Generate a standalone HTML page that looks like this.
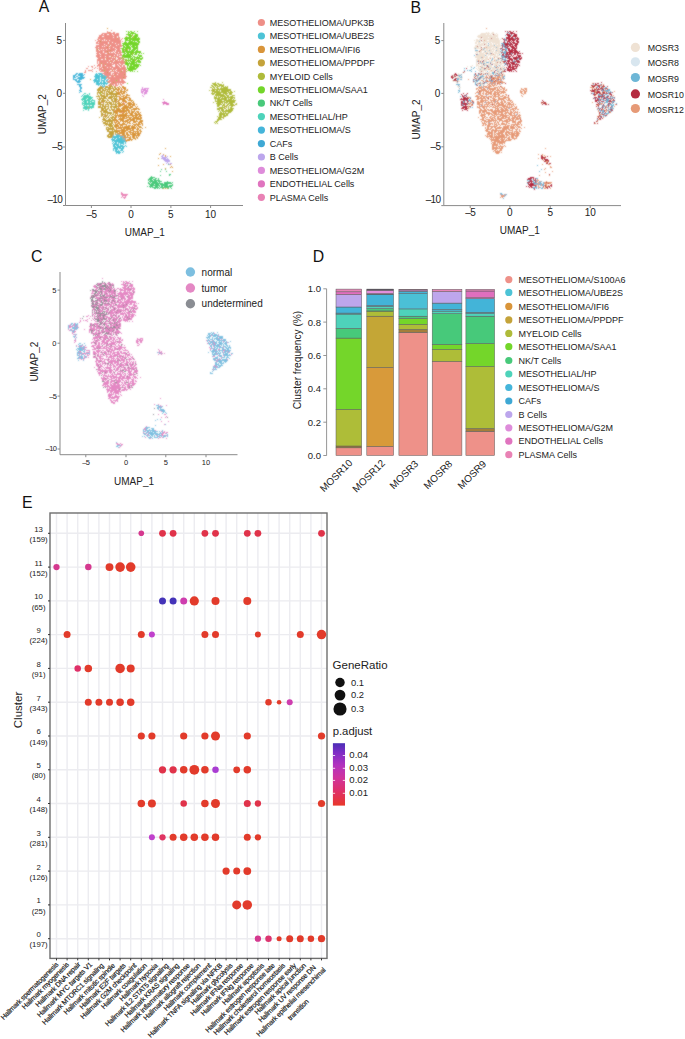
<!DOCTYPE html><html><head><meta charset="utf-8"><style>html,body{margin:0;padding:0;background:#fff;}body{width:685px;height:1039px;overflow:hidden;}svg{display:block;}text{font-family:"Liberation Sans",sans-serif;}</style></head><body>
<svg width="685" height="1039" viewBox="0 0 685 1039">
<rect width="685" height="1039" fill="#fff"/>
<defs><filter id="soft" x="-5%" y="-5%" width="110%" height="110%"><feConvolveMatrix order="3" kernelMatrix="0.5 1 0.5 1 5 1 0.5 1 0.5" divisor="11" edgeMode="none"/></filter></defs>
<text x="38.8" y="12.4" font-size="15.8" fill="#111">A</text>
<text x="410.6" y="12.5" font-size="15.8" fill="#111">B</text>
<text x="31.0" y="262.2" font-size="15.8" fill="#111">C</text>
<text x="312.8" y="262.4" font-size="15.8" fill="#111">D</text>
<text x="22.1" y="507.6" font-size="15.8" fill="#111">E</text>
<path d="M65.5 23V205.5H243" stroke="#8a8a8a" stroke-width="1" fill="none"/><path d="M63.0 40.4H65.5" stroke="#8a8a8a" stroke-width="1"/><text x="62.0" y="43.7" font-size="10" fill="#222" text-anchor="end">5</text><path d="M63.0 93.3H65.5" stroke="#8a8a8a" stroke-width="1"/><text x="62.0" y="96.6" font-size="10" fill="#222" text-anchor="end">0</text><path d="M63.0 147H65.5" stroke="#8a8a8a" stroke-width="1"/><text x="62.0" y="150.3" font-size="10" fill="#222" text-anchor="end" letter-spacing="-0.70">–5</text><path d="M63.0 205.5H65.5" stroke="#8a8a8a" stroke-width="1"/><text x="62.0" y="203.3" font-size="10" fill="#222" text-anchor="end" letter-spacing="-0.70">–10</text><path d="M91.4 205.5V208.0" stroke="#8a8a8a" stroke-width="1"/><text x="91.4" y="217.5" font-size="10" fill="#222" text-anchor="middle" letter-spacing="-0.70">–5</text><path d="M131 205.5V208.0" stroke="#8a8a8a" stroke-width="1"/><text x="131" y="217.5" font-size="10" fill="#222" text-anchor="middle">0</text><path d="M170.9 205.5V208.0" stroke="#8a8a8a" stroke-width="1"/><text x="170.9" y="217.5" font-size="10" fill="#222" text-anchor="middle">5</text><path d="M210.6 205.5V208.0" stroke="#8a8a8a" stroke-width="1"/><text x="210.6" y="217.5" font-size="10" fill="#222" text-anchor="middle">10</text><text x="0" y="0" transform="translate(45.6,114.2) rotate(-90)" font-size="10" fill="#222" text-anchor="middle">UMAP_2</text><text x="144.8" y="235.8" font-size="10" fill="#222" text-anchor="middle">UMAP_1</text>
<g shape-rendering="crispEdges" filter="url(#soft)"><path stroke="#D9953A" stroke-width="1" fill="none" d="M107 28.5h1m1 4h1m7 6h1m-11 9h1m2 3h1m-3 3h1m2 3h1m3 1h1m-10 1h1m8 2h1m-6 1h1m-8 6h1m8 3h1m-6 2h1m6 3h1m-25 4h1m28 7h1m2 0h2m-7 1h2m1 0h1m1 0h4m-8 1h2m1 0h1m1 0h3m-13 1h1m2 0h4m1 0h1m2 0h2m1 0h1m-11 1h2m1 0h1m3 0h1m1 0h2m-12 1h1m1 0h1m1 0h6m-9 1h5m1 0h2m1 0h1m-9 1h2m1 0h4m-9 1h1m1 0h3m1 0h1m3 0h2m-8 1h1m2 0h2m1 0h4m-12 1h2m1 0h3m1 0h2m-8 1h2m2 0h7m-11 1h8m2 0h2m-12 1h6m2 0h1m1 0h2m-13 1h2m2 0h4m2 0h4m-10 1h5m4 0h1m1 0h1m-16 1h2m1 0h1m3 0h2m1 0h3m1 0h2m-15 1h1m2 0h2m3 0h5m1 0h2m-17 1h7m1 0h1m1 0h7m1 0h1m-18 1h4m1 0h3m1 0h3m1 0h3m-18 1h4m2 0h6m1 0h3m2 0h1m1 0h1m-20 1h1m3 0h11m3 0h1m-19 1h1m2 0h7m1 0h1m3 0h6m-23 1h5m1 0h3m1 0h3m2 0h6m1 0h2m-38 1h1m12 0h15m1 0h1m2 0h1m-20 1h12m1 0h2m1 0h4m1 0h3m-25 1h4m1 0h3m1 0h2m1 0h1m1 0h2m1 0h3m1 0h1m1 0h2m1 0h1m-26 1h3m4 0h2m1 0h3m1 0h4m1 0h3m1 0h2m-23 1h1m1 0h8m3 0h3m2 0h6m-27 1h1m1 0h22m1 0h3m-27 1h2m1 0h9m1 0h1m3 0h2m1 0h2m1 0h3m-27 1h3m1 0h1m1 0h1m1 0h3m1 0h6m1 0h6m1 0h2m-27 1h1m3 0h8m2 0h2m1 0h10m-28 1h3m1 0h6m3 0h8m1 0h4m-27 1h5m2 0h4m1 0h4m1 0h5m1 0h1m3 0h3m-29 1h1m1 0h3m1 0h1m1 0h6m1 0h2m2 0h5m1 0h4m-29 1h3m1 0h2m3 0h1m1 0h1m1 0h3m3 0h3m2 0h4m-27 1h1m1 0h3m2 0h3m2 0h1m1 0h2m1 0h1m3 0h1m1 0h2m1 0h2m-28 1h3m1 0h8m6 0h8m1 0h1m-28 1h4m1 0h3m3 0h1m1 0h3m1 0h1m1 0h2m1 0h2m3 0h1m-29 1h1m1 0h3m1 0h1m1 0h1m1 0h6m1 0h4m1 0h1m1 0h3m-26 1h2m1 0h12m1 0h5m1 0h1m1 0h1m1 0h1m3 0h1m-30 1h6m1 0h13m1 0h2m3 0h1m-29 1h1m1 0h1m4 0h4m1 0h5m1 0h2m2 0h3m1 0h1m-24 1h11m2 0h4m3 0h1m1 0h2m-25 1h4m1 0h5m2 0h3m2 0h6m1 0h2m-23 1h6m1 0h2m1 0h5m1 0h1m1 0h2m1 0h1m-24 1h8m1 0h2m2 0h1m1 0h9m-22 1h1m2 0h3m1 0h3m1 0h6m1 0h3m-20 1h6m1 0h3m2 0h8m-16 1h2m1 0h1m2 0h1m1 0h3m1 0h1m1 0h1m-17 1h9m1 0h3m1 0h2m-13 1h1m3 0h2m2 0h1m1 0h1m1 0h1m-15 1h1m1 0h1m1 0h6m2 0h1m-11 1h5m1 0h1m-6 1h1m38 7h1m-6 5h1m-2 1h1m3 0h1m1 1h1m-1 1h1m4 0h1m-13 2h1m4 6h1m6 0h1m-13 1h1m12 1h1m-2 1h1m1 0h1m-8 1h1m6 3h1"/>
<path stroke="#E074BF" stroke-width="1" fill="none" d="M163 99.5h1m0 2h1m-3 1h5m-4 1h6m-6 1h1m2 0h3"/>
<path stroke="#EE8F87" stroke-width="1" fill="none" d="M111 30.5h1m-5 1h1m-1 1h2m1 0h1m2 0h2m-13 1h13m1 0h3m-18 1h2m1 0h3m2 0h3m1 0h6m-20 1h14m1 0h5m-20 1h3m2 0h13m1 0h1m-21 1h15m1 0h3m1 0h2m-22 1h19m1 0h2m2 0h1m-26 1h2m1 0h4m1 0h15m1 0h1m-27 1h1m2 0h4m1 0h1m1 0h1m1 0h2m1 0h11m-24 1h3m1 0h20m1 0h1m-27 1h2m1 0h9m1 0h3m1 0h8m-25 1h12m1 0h6m1 0h5m-22 1h5m1 0h13m1 0h2m-25 1h10m1 0h2m2 0h5m1 0h5m-26 1h6m1 0h1m1 0h4m1 0h12m-27 1h3m1 0h8m1 0h5m1 0h6m-24 1h13m1 0h5m1 0h5m-25 1h1m2 0h2m1 0h1m1 0h2m1 0h9m1 0h3m-24 1h3m1 0h10m1 0h4m1 0h5m3 0h1m-29 1h7m1 0h3m1 0h5m1 0h1m1 0h5m-24 1h6m1 0h5m1 0h1m2 0h1m1 0h3m1 0h3m-26 1h3m1 0h5m2 0h1m1 0h6m1 0h5m-24 1h3m1 0h16m1 0h1m1 0h2m-26 1h18m1 0h2m1 0h4m-26 1h4m1 0h4m1 0h3m3 0h7m-22 1h15m1 0h1m3 0h5m1 0h1m-26 1h7m2 0h9m2 0h3m1 0h1m-26 1h4m2 0h2m1 0h5m1 0h4m1 0h4m1 0h1m1 0h1m-28 1h12m1 0h4m2 0h2m1 0h1m1 0h3m-27 1h1m1 0h11m1 0h2m1 0h10m1 0h1m-29 1h1m1 0h8m1 0h2m1 0h14m-28 1h1m1 0h2m1 0h10m1 0h6m1 0h5m-27 1h3m1 0h3m1 0h8m1 0h2m1 0h2m1 0h2m-29 1h1m2 0h4m1 0h3m1 0h6m3 0h3m1 0h3m1 0h2m-37 1h1m2 0h2m4 0h1m1 0h2m1 0h11m2 0h4m1 0h2m1 0h2m-33 1h1m2 0h1m3 0h1m1 0h2m1 0h3m1 0h2m1 0h9m1 0h5m-40 1h2m6 0h1m2 0h1m1 0h3m1 0h9m1 0h13m-34 1h1m6 0h17m1 0h9m-41 1h1m2 0h4m7 0h1m1 0h3m1 0h5m4 0h1m1 0h6m1 0h3m1 0h1m-43 1h1m6 0h1m3 0h1m3 0h9m1 0h6m1 0h4m1 0h4m-42 1h2m18 0h3m1 0h3m3 0h4m1 0h7m-24 1h9m1 0h14m-22 1h7m1 0h1m1 0h3m1 0h6m1 0h1m-21 1h9m1 0h11m-19 1h2m2 0h3m1 0h12m-20 1h16m1 0h2m-20 1h1m1 0h18m-18 1h1m1 0h10m1 0h2m-14 1h7m1 0h3m1 0h3m-17 1h18m-16 1h1m1 0h2m1 0h12m-16 1h7m1 0h1m1 0h1m1 0h2m-15 1h1m1 0h3m1 0h2m1 0h1m1 0h2m-14 1h1m1 0h1m2 0h1m1 0h3m3 0h1m-7 1h1m6 3h1m-7 12h1m-15 1h1m20 0h1m0 1h1m-11 7h1m7 2h1m-19 3h1"/>
<path stroke="#AFBB3A" stroke-width="1" fill="none" d="M215 82.5h1m6 0h1m-11 1h4m1 0h2m-6 1h4m1 0h4m1 0h1m-13 1h2m1 0h4m1 0h5m-12 1h2m1 0h1m1 0h3m1 0h3m1 0h1m1 0h1m-18 1h2m1 0h2m1 0h2m3 0h1m1 0h5m-16 1h1m1 0h1m2 0h2m1 0h8m-15 1h18m-22 1h1m1 0h4m1 0h2m1 0h1m1 0h10m-19 1h1m1 0h6m1 0h8m1 0h2m2 0h1m-23 1h1m1 0h13m1 0h5m-22 1h4m1 0h5m2 0h5m1 0h3m-20 1h2m1 0h9m1 0h2m2 0h3m-17 1h10m1 0h3m3 0h3m-21 1h1m1 0h1m1 0h1m1 0h6m1 0h2m1 0h3m-19 1h3m1 0h3m1 0h1m1 0h11m-21 1h6m1 0h6m1 0h1m1 0h3m1 0h1m-20 1h1m1 0h10m1 0h4m1 0h1m-19 1h1m1 0h5m2 0h12m-21 1h10m1 0h9m-22 1h1m3 0h4m1 0h1m1 0h4m1 0h6m-19 1h5m1 0h1m1 0h1m1 0h1m1 0h5m3 0h1m-20 1h5m1 0h2m2 0h2m1 0h4m1 0h2m-20 1h3m2 0h3m2 0h1m1 0h5m-17 1h2m3 0h1m2 0h2m1 0h1m2 0h2m-14 1h6m1 0h1m1 0h1m1 0h2m-15 1h3m1 0h2m1 0h1m3 0h1m1 0h4m-17 1h3m1 0h3m2 0h1m1 0h5m-14 1h1m1 0h3m1 0h8m-15 1h1m1 0h1m1 0h10m-12 1h2m1 0h1m1 0h1m2 0h3m-12 1h10m-10 1h6m1 0h2m-9 1h3m1 0h5m-11 1h1m1 0h3m1 0h3m-8 1h5m-5 1h3m2 0h1m-7 1h5m-5 1h2m-4 1h3m-4 1h1m1 0h1m-2 1h1m1 0h1"/>
<path stroke="#73D62A" stroke-width="1" fill="none" d="M126 31.5h1m1 0h1m1 0h2m2 0h1m2 0h1m-10 1h2m1 0h3m-6 1h1m1 0h6m-10 1h5m1 0h1m2 0h3m-10 1h4m2 0h4m-9 1h3m1 0h5m-13 1h6m1 0h1m1 0h3m1 0h1m-15 1h16m-15 1h3m1 0h11m-15 1h6m1 0h7m-14 1h1m3 0h4m1 0h1m2 0h3m-16 1h3m1 0h9m1 0h2m-18 1h17m-16 1h16m-17 1h2m1 0h4m1 0h1m1 0h6m-15 1h2m1 0h4m1 0h4m1 0h2m-15 1h8m1 0h6m-17 1h3m1 0h6m2 0h5m-16 1h5m2 0h2m1 0h4m1 0h1m-16 1h2m1 0h3m1 0h1m1 0h4m1 0h2m-16 1h12m1 0h6m-19 1h3m1 0h15m-17 1h2m1 0h2m1 0h2m1 0h1m1 0h2m2 0h1m1 0h1m1 0h1m-21 1h2m1 0h7m1 0h3m1 0h1m-17 1h9m1 0h1m5 0h4m-20 1h10m1 0h2m2 0h1m1 0h3m-20 1h1m1 0h7m1 0h1m1 0h6m2 0h1m-22 1h1m1 0h1m4 0h1m1 0h3m1 0h1m1 0h7m-20 1h1m1 0h2m1 0h1m1 0h7m1 0h1m1 0h2m-17 1h1m1 0h4m1 0h3m2 0h3m-16 1h1m1 0h1m1 0h1m1 0h5m1 0h5m-16 1h3m1 0h1m1 0h6m1 0h3m-16 1h10m1 0h1m-12 1h4m1 0h10m-13 1h2m1 0h2m1 0h6m1 0h1m-14 1h1m1 0h10m-12 1h1m1 0h6m1 0h2m-11 1h10m-11 1h1m1 0h8m-32 1h1m23 0h5m-7 1h1m3 0h1m1 0h1m1 0h1m2 0h1m-22 9h1m10 3h1m-28 10h1"/>
<path stroke="#4ED3BA" stroke-width="1" fill="none" d="M84 93.5h2m3 0h1m-7 1h1m3 0h1m1 0h1m-6 1h5m-8 1h1m1 0h8m-8 1h10m-11 1h5m1 0h4m-11 1h5m1 0h4m1 0h1m-11 1h1m1 0h6m1 0h4m-12 1h4m1 0h4m2 0h1m-13 1h1m1 0h3m1 0h2m1 0h4m-13 1h13m-13 1h1m1 0h11m-12 1h2m1 0h1m2 0h1m2 0h2m-10 1h10m-11 1h5m1 0h5m-11 1h7m1 0h1m-7 1h2m1 0h1m-6 1h1m4 0h1"/>
<path stroke="#48C97A" stroke-width="1" fill="none" d="M168 164.5h1m-8 5h1m3 0h1m-6 2h1m5 0h1m2 3h2m-11 1h1m8 0h1m-19 1h1m-2 1h5m-6 1h4m2 0h2m1 0h1m-11 1h4m1 0h3m2 0h1m-11 1h1m1 0h3m1 0h6m-11 1h8m1 0h4m5 0h1m-20 1h1m1 0h1m1 0h6m1 0h1m4 0h7m1 0h1m-25 1h2m1 0h12m1 0h8m-23 1h5m1 0h4m1 0h8m4 0h1m-23 1h10m1 0h7m1 0h4m-26 1h1m1 0h4m2 0h3m1 0h1m1 0h2m1 0h8m-22 1h1m1 0h7m1 0h9m1 0h1m-17 1h2m1 0h1m1 0h1m2 0h1m5 0h1m2 0h1"/>
<path stroke="#C4A33A" stroke-width="1" fill="none" d="M132 35.5h1m-7 1h1m6 1h1m-34 4h1m8 4h1m-13 4h1m29 0h1m-21 2h1m24 2h1m-7 7h1m8 0h1m-35 3h1m3 1h1m15 7h1m2 3h1m-22 2h1m2 1h1m16 0h1m-16 5h1m4 0h1m-4 2h1m-2 1h1m1 0h1m-12 1h2m3 0h3m1 0h4m1 0h1m-16 1h5m1 0h6m1 0h1m1 0h2m-18 1h5m1 0h2m2 0h6m1 0h2m-20 1h4m1 0h2m1 0h6m3 0h2m96 0h1m-116 1h4m1 0h4m1 0h1m1 0h1m1 0h1m1 0h2m6 0h1m-24 1h1m1 0h3m1 0h1m1 0h4m1 0h3m1 0h1m97 0h1m-117 1h6m1 0h1m1 0h1m1 0h5m3 0h1m-20 1h1m1 0h1m2 0h3m1 0h2m1 0h9m-21 1h1m2 0h2m2 0h1m1 0h10m1 0h1m-20 1h1m1 0h5m1 0h2m3 0h1m1 0h1m1 0h2m-21 1h4m1 0h7m1 0h9m-19 1h1m1 0h1m1 0h3m2 0h5m1 0h1m1 0h1m-20 1h1m1 0h8m1 0h4m1 0h4m-19 1h3m1 0h2m3 0h1m3 0h2m1 0h4m-19 1h1m1 0h5m1 0h2m2 0h2m1 0h3m15 0h1m-35 1h2m1 0h4m1 0h1m2 0h1m2 0h4m1 0h2m-21 1h4m1 0h1m1 0h7m1 0h1m1 0h2m104 0h1m-124 1h3m2 0h1m3 0h1m1 0h3m1 0h1m1 0h1m1 0h2m1 0h1m-23 1h6m1 0h4m1 0h7m-17 1h1m1 0h2m1 0h1m2 0h1m2 0h1m3 0h2m1 0h1m107 0h1m7 0h1m-137 1h3m1 0h7m1 0h7m107 0h1m-137 1h1m9 0h5m1 0h2m2 0h1m1 0h2m1 0h4m-16 1h5m1 0h2m2 0h1m2 0h1m1 0h2m1 0h1m10 0h1m89 0h1m4 0h1m-125 1h3m1 0h3m1 0h1m1 0h4m-14 1h1m1 0h4m2 0h2m1 0h2m-14 1h2m1 0h5m5 0h2m-14 1h1m1 0h9m1 0h1m-13 1h2m2 0h1m1 0h5m1 0h1m-13 1h5m1 0h1m2 0h1m1 0h2m1 0h1m-15 1h2m2 0h3m1 0h1m1 0h1m3 0h1m-15 1h1m1 0h4m1 0h1m3 0h2m-15 1h1m3 0h1m1 0h1m1 0h2m1 0h4m109 0h1m-121 1h2m1 0h1m2 0h1m1 0h2m1 0h1m-13 1h4m2 0h3m1 0h2m26 0h1m-38 1h10m-11 1h1m2 0h8m-10 1h3m1 0h1m1 0h1m1 0h2m-10 1h5m1 0h4m-8 1h7m1 0h1m-10 1h1m1 0h1m1 0h5m1 0h1m-6 1h4m2 0h1m-10 1h3m1 0h1m1 0h2m26 0h1m-35 1h1m1 0h6m-8 1h8m-7 1h2m3 0h1m1 0h3m-10 1h9m-7 1h5m1 0h3m-9 1h5m1 0h1m-8 1h6m1 0h1m1 0h1m-11 1h2m1 0h3m-6 1h6m-5 1h4m22 1h1m28 50h1m1 0h1m1 0h1"/>
<path stroke="#45B5DA" stroke-width="1" fill="none" d="M76 73.5h2m1 0h4m-8 1h2m1 0h5m1 0h1m-12 1h3m2 0h6m-11 1h2m1 0h2m2 0h3m-10 1h3m2 0h7m-12 1h1m3 0h7m-11 1h4m2 0h3m-7 1h2m1 0h2m-4 1h5m-4 1h3m-3 2h5m-3 1h2m-2 1h2m-1 1h2m-2 1h2m-2 1h1m-2 1h2m-1 1h2m-3 1h1m2 3h1"/>
<path stroke="#BCA6EC" stroke-width="1" fill="none" d="M162 155.5h2m-3 1h2m4 0h1m-6 1h5m-6 1h5m1 0h1m-5 1h6m-5 1h6m-5 1h5m-3 1h1m-2 1h1m1 0h1m1 0h2m-3 1h1"/>
<path stroke="#4DC3D6" stroke-width="1" fill="none" d="M96 73.5h1m1 0h4m-7 1h3m1 0h4m-8 1h5m1 0h4m-11 1h9m1 0h3m-12 1h5m1 0h5m-11 1h5m1 0h5m-12 1h3m1 0h2m1 0h1m2 0h2m1 0h1m-15 1h7m1 0h4m1 0h2m-14 1h6m1 0h1m1 0h2m1 0h1m-13 1h1m1 0h3m1 0h2m1 0h3m1 0h1m-12 1h12m-12 1h4m1 0h1m1 0h2m1 0h1m-9 1h1m1 0h1m1 0h1m1 0h1m-3 1h3m11 48h1m1 0h1m-6 1h1m2 0h4m-7 1h11m-12 1h7m1 0h2m-10 1h1m1 0h2m1 0h8m-14 1h4m1 0h7m1 0h1m-13 1h13m-13 1h1m1 0h12m-13 1h1m1 0h2m1 0h6m1 0h1m-14 1h1m1 0h3m1 0h1m1 0h4m1 0h1m-13 1h6m1 0h1m2 0h1m-11 1h2m1 0h3m1 0h3m2 0h1m-13 1h3m1 0h8m1 0h1m-13 1h7m1 0h2m-11 1h5m1 0h5m-11 1h1m1 0h3m3 0h2m-10 1h1m1 0h2m1 0h1m1 0h3m-8 1h5m3 0h1m-8 1h5m1 0h1m-7 1h1m1 0h2"/>
<path stroke="#E982B5" stroke-width="1" fill="none" d="M121 192.5h1m-1 1h2m-2 1h7m-6 1h5m-5 1h1m2 0h1m-5 1h1m1 0h3m-2 1h1"/>
<path stroke="#DE8CDA" stroke-width="1" fill="none" d="M142 87.5h1m-1 1h1m1 0h5m-8 1h5m1 0h1m-7 1h1m1 0h5m-7 1h3m1 0h3m-7 1h2m1 0h3m-5 1h1m1 0h3m-3 1h1m-3 1h1m0 1h1"/>
</g>
<circle cx="261.4" cy="22.5" r="3.6" fill="#EE8F87"/>
<text x="269.7" y="25.7" font-size="9" fill="#222">MESOTHELIOMA/UPK3B</text>
<circle cx="261.4" cy="36.0" r="3.6" fill="#4DC3D6"/>
<text x="269.7" y="39.2" font-size="9" fill="#222">MESOTHELIOMA/UBE2S</text>
<circle cx="261.4" cy="49.4" r="3.6" fill="#D9953A"/>
<text x="269.7" y="52.6" font-size="9" fill="#222">MESOTHELIOMA/IFI6</text>
<circle cx="261.4" cy="62.8" r="3.6" fill="#C4A33A"/>
<text x="269.7" y="66.0" font-size="9" fill="#222">MESOTHELIOMA/PPDPF</text>
<circle cx="261.4" cy="76.3" r="3.6" fill="#AFBB3A"/>
<text x="269.7" y="79.5" font-size="9" fill="#222">MYELOID Cells</text>
<circle cx="261.4" cy="89.8" r="3.6" fill="#73D62A"/>
<text x="269.7" y="93.0" font-size="9" fill="#222">MESOTHELIOMA/SAA1</text>
<circle cx="261.4" cy="103.2" r="3.6" fill="#48C97A"/>
<text x="269.7" y="106.4" font-size="9" fill="#222">NK/T Cells</text>
<circle cx="261.4" cy="116.6" r="3.6" fill="#4ED3BA"/>
<text x="269.7" y="119.8" font-size="9" fill="#222">MESOTHELIAL/HP</text>
<circle cx="261.4" cy="130.1" r="3.6" fill="#45B5DA"/>
<text x="269.7" y="133.3" font-size="9" fill="#222">MESOTHELIOMA/S</text>
<circle cx="261.4" cy="143.6" r="3.6" fill="#3EA8D4"/>
<text x="269.7" y="146.8" font-size="9" fill="#222">CAFs</text>
<circle cx="261.4" cy="157.0" r="3.6" fill="#BCA6EC"/>
<text x="269.7" y="160.2" font-size="9" fill="#222">B Cells</text>
<circle cx="261.4" cy="170.4" r="3.6" fill="#DE8CDA"/>
<text x="269.7" y="173.6" font-size="9" fill="#222">MESOTHELIOMA/G2M</text>
<circle cx="261.4" cy="183.9" r="3.6" fill="#E074BF"/>
<text x="269.7" y="187.1" font-size="9" fill="#222">ENDOTHELIAL Cells</text>
<circle cx="261.4" cy="197.3" r="3.6" fill="#E982B5"/>
<text x="269.7" y="200.5" font-size="9" fill="#222">PLASMA Cells</text>
<path d="M443.8 23V205.6H621" stroke="#8a8a8a" stroke-width="1" fill="none"/><path d="M441.3 40.6H443.8" stroke="#8a8a8a" stroke-width="1"/><text x="440.3" y="43.9" font-size="10" fill="#222" text-anchor="end">5</text><path d="M441.3 93.4H443.8" stroke="#8a8a8a" stroke-width="1"/><text x="440.3" y="96.7" font-size="10" fill="#222" text-anchor="end">0</text><path d="M441.3 146.8H443.8" stroke="#8a8a8a" stroke-width="1"/><text x="440.3" y="150.1" font-size="10" fill="#222" text-anchor="end" letter-spacing="-0.70">–5</text><path d="M441.3 205.6H443.8" stroke="#8a8a8a" stroke-width="1"/><text x="440.3" y="203.2" font-size="10" fill="#222" text-anchor="end" letter-spacing="-0.70">–10</text><path d="M470.2 205.6V208.1" stroke="#8a8a8a" stroke-width="1"/><text x="470.2" y="216.4" font-size="10" fill="#222" text-anchor="middle" letter-spacing="-0.70">–5</text><path d="M509.9 205.6V208.1" stroke="#8a8a8a" stroke-width="1"/><text x="509.9" y="216.4" font-size="10" fill="#222" text-anchor="middle">0</text><path d="M550.2 205.6V208.1" stroke="#8a8a8a" stroke-width="1"/><text x="550.2" y="216.4" font-size="10" fill="#222" text-anchor="middle">5</text><path d="M590.2 205.6V208.1" stroke="#8a8a8a" stroke-width="1"/><text x="590.2" y="216.4" font-size="10" fill="#222" text-anchor="middle">10</text><text x="0" y="0" transform="translate(420.2,119.5) rotate(-90)" font-size="10" fill="#222" text-anchor="middle">UMAP_2</text><text x="519.8" y="233.6" font-size="10" fill="#222" text-anchor="middle">UMAP_1</text>
<g shape-rendering="crispEdges" filter="url(#soft)"><path stroke="#EFE2D4" stroke-width="1" fill="none" d="M486 32.5h1m1 0h1m3 0h2m-13 1h9m1 0h3m2 0h1m-17 1h6m1 0h2m1 0h1m1 0h1m1 0h2m1 0h1m-20 1h14m1 0h5m-21 1h21m-20 1h3m1 0h6m1 0h7m1 0h1m-18 1h2m1 0h8m1 0h7m2 0h1m-26 1h2m1 0h2m1 0h17m1 0h1m-27 1h1m1 0h5m2 0h1m1 0h2m2 0h11m-24 1h3m2 0h19m1 0h1m-27 1h2m1 0h3m2 0h2m1 0h2m1 0h2m1 0h8m-25 1h2m1 0h2m1 0h6m3 0h2m1 0h1m1 0h5m-23 1h6m2 0h2m1 0h4m1 0h4m1 0h2m-25 1h3m1 0h6m1 0h2m2 0h4m2 0h5m-26 1h2m1 0h3m4 0h16m-27 1h5m1 0h1m2 0h1m1 0h1m1 0h5m1 0h3m1 0h2m-25 1h1m1 0h8m1 0h6m1 0h2m1 0h5m-25 1h1m6 0h1m1 0h1m1 0h2m1 0h6m1 0h3m-20 1h1m1 0h8m1 0h2m1 0h1m1 0h1m1 0h3m3 0h1m-29 1h4m1 0h2m2 0h1m2 0h7m1 0h5m1 0h1m-26 1h2m1 0h3m1 0h5m1 0h2m1 0h1m1 0h3m1 0h3m-26 1h1m1 0h1m1 0h5m1 0h1m2 0h2m2 0h2m1 0h5m-22 1h7m1 0h1m1 0h5m1 0h2m1 0h1m2 0h1m-25 1h9m1 0h1m1 0h1m1 0h3m1 0h2m1 0h3m-25 1h10m1 0h2m2 0h1m2 0h5m-23 1h6m2 0h5m1 0h2m1 0h1m3 0h4m1 0h1m-25 1h7m1 0h3m1 0h1m3 0h2m2 0h1m1 0h1m-24 1h4m1 0h2m1 0h4m3 0h1m2 0h4m1 0h1m1 0h1m-26 1h2m1 0h3m2 0h3m2 0h1m2 0h1m2 0h1m1 0h2m1 0h1m1 0h1m-27 1h1m2 0h1m4 0h3m1 0h14m-26 1h1m1 0h2m1 0h1m1 0h2m6 0h2m2 0h2m1 0h2m-24 1h1m2 0h2m1 0h1m2 0h2m1 0h1m3 0h6m1 0h5m-28 1h2m1 0h1m1 0h1m2 0h3m1 0h3m3 0h5m1 0h2m-30 1h1m3 0h3m2 0h3m1 0h1m2 0h4m2 0h2m2 0h1m1 0h1m1 0h1m-36 1h1m2 0h2m4 0h1m1 0h2m1 0h2m1 0h1m1 0h1m2 0h3m3 0h2m2 0h2m1 0h2m-26 1h1m4 0h2m2 0h1m1 0h6m2 0h1m2 0h3m-27 1h1m1 0h6m2 0h4m2 0h7m2 0h2m1 0h1m-28 1h1m1 0h1m1 0h3m1 0h3m2 0h1m1 0h3m1 0h1m1 0h2m2 0h2m-26 1h9m3 0h1m1 0h2m3 0h4m1 0h2m-25 1h2m1 0h2m1 0h1m3 0h4m6 0h1m-38 1h1m1 0h1m15 0h1m2 0h1m2 0h1m1 0h2m5 0h2m1 0h2m2 0h2m-46 1h1m21 0h1m1 0h3m1 0h1m1 0h4m2 0h2m2 0h1m1 0h1m2 0h1m-46 1h3m15 0h1m7 0h1m3 0h3m6 0h1m2 0h2m1 0h2m-52 1h1m7 0h1m13 0h1m4 0h2m1 0h1m-31 1h1m4 0h1m14 0h2m3 0h1m5 0h2m15 0h1m-48 1h1m2 0h3m2 0h1m15 0h1m3 0h2m12 0h1m4 0h1m-43 1h1m1 0h1m12 0h1m2 0h1m3 0h2m2 0h1m1 0h1m13 0h1m-43 1h1m15 0h1m1 0h1m2 0h1m9 0h1m-39 1h1m5 0h1m20 0h1m3 0h1m10 0h1m-42 1h1m1 0h2m1 0h2m15 0h1m4 0h1m1 0h1m-27 1h1m16 0h1m2 0h1m2 0h1m2 0h2m4 0h1m-32 1h1m23 0h1m4 0h1m-10 1h2m2 0h4m-26 1h1m21 0h1m6 0h1m6 0h1m-39 1h2m21 0h1m1 0h1m-25 1h1m1 0h1m-2 2h1m8 7h1m-1 8h1m1 0h1m-3 1h1m0 3h1"/>
<path stroke="#E69A77" stroke-width="1" fill="none" d="M486 28.5h1m-3 12h1m-1 7h1m1 0h1m-7 3h1m5 3h1m6 1h1m-12 3h1m11 0h1m-5 1h1m-3 1h1m-11 1h1m15 0h1m7 1h1m-21 1h1m20 0h1m-8 3h1m-17 1h1m1 1h1m3 0h1m11 0h1m5 0h1m-17 2h2m11 0h1m-11 1h1m5 1h1m4 0h1m-24 3h1m1 0h1m16 0h2m-14 1h1m1 0h1m2 0h2m1 0h2m3 0h1m1 0h2m1 0h1m-28 1h1m8 0h1m2 0h2m6 0h3m2 0h1m-18 1h2m2 0h1m2 0h4m1 0h4m1 0h1m-27 1h1m7 0h1m3 0h2m1 0h2m1 0h5m1 0h1m2 0h1m-36 1h1m17 0h1m5 0h3m1 0h2m2 0h2m1 0h1m-23 1h2m3 0h2m5 0h1m2 0h1m1 0h1m1 0h1m-16 1h2m1 0h3m2 0h1m1 0h8m-13 1h6m1 0h3m1 0h4m-27 1h1m1 0h1m6 0h1m1 0h2m1 0h2m1 0h1m2 0h2m2 0h1m89 0h1m-105 1h2m1 0h2m1 0h2m1 0h1m1 0h2m102 0h1m-117 1h1m1 0h2m1 0h3m1 0h1m96 0h1m2 0h1m3 0h2m-123 1h1m1 0h1m1 0h4m1 0h4m1 0h1m4 0h1m2 0h1m-24 1h4m1 0h1m1 0h5m4 0h4m1 0h1m1 0h2m1 0h1m85 0h3m9 0h2m-128 1h2m1 0h3m1 0h2m3 0h8m1 0h1m1 0h1m2 0h3m16 0h1m2 0h3m65 0h1m1 0h1m12 0h1m-132 1h1m1 0h1m2 0h5m1 0h1m1 0h7m1 0h2m1 0h2m1 0h2m1 0h1m14 0h3m1 0h2m69 0h1m3 0h1m4 0h1m-128 1h9m1 0h1m1 0h1m1 0h2m2 0h4m3 0h1m1 0h2m13 0h1m2 0h2m1 0h1m64 0h1m3 0h1m-119 1h1m2 0h2m1 0h1m1 0h4m1 0h3m1 0h2m1 0h1m1 0h6m15 0h3m1 0h3m68 0h2m6 0h3m2 0h1m5 0h1m-139 1h5m2 0h1m2 0h6m2 0h6m1 0h5m14 0h2m2 0h2m69 0h1m4 0h1m-126 1h1m3 0h2m1 0h2m1 0h2m1 0h4m1 0h3m1 0h2m1 0h2m1 0h1m17 0h2m1 0h2m76 0h1m2 0h1m-128 1h3m2 0h1m1 0h4m1 0h2m1 0h7m5 0h2m16 0h1m72 0h1m3 0h1m8 0h1m-134 1h2m2 0h3m9 0h1m1 0h2m2 0h2m2 0h2m2 0h1m14 0h1m73 0h1m17 0h1m-139 1h5m1 0h6m1 0h4m1 0h6m1 0h3m1 0h2m2 0h1m13 0h1m81 0h1m7 0h1m-145 1h2m7 0h2m1 0h2m1 0h2m1 0h3m1 0h2m1 0h1m1 0h1m2 0h2m3 0h6m-32 1h9m1 0h1m4 0h3m3 0h8m2 0h2m91 0h1m-126 1h3m2 0h2m2 0h1m2 0h1m1 0h1m2 0h4m1 0h6m2 0h1m1 0h2m101 0h1m-141 1h2m7 0h8m2 0h6m1 0h2m2 0h1m1 0h2m2 0h5m100 0h1m-140 1h1m3 0h2m1 0h4m1 0h1m2 0h1m2 0h1m1 0h2m1 0h2m3 0h2m1 0h2m4 0h1m1 0h1m86 0h1m-130 1h2m5 0h6m1 0h1m1 0h7m1 0h2m1 0h2m1 0h3m1 0h2m1 0h3m1 0h2m30 0h1m48 0h1m11 0h1m6 0h1m-143 1h2m1 0h1m4 0h3m2 0h1m3 0h1m1 0h2m2 0h1m1 0h1m1 0h4m1 0h3m2 0h1m1 0h3m2 0h1m27 0h1m4 0h1m53 0h3m-134 1h1m1 0h1m5 0h6m1 0h5m1 0h2m1 0h2m1 0h1m1 0h6m1 0h1m1 0h7m1 0h1m82 0h1m2 0h1m13 0h1m-145 1h2m6 0h1m2 0h1m1 0h1m2 0h1m1 0h1m2 0h1m1 0h2m1 0h9m1 0h1m1 0h1m1 0h1m1 0h1m83 0h1m8 0h1m2 0h1m-142 1h1m8 0h1m1 0h10m1 0h2m1 0h1m1 0h4m3 0h6m1 0h1m1 0h2m1 0h1m1 0h1m87 0h1m1 0h1m7 0h1m-147 1h1m8 0h3m2 0h3m1 0h1m2 0h1m2 0h4m1 0h1m1 0h3m1 0h2m1 0h6m3 0h2m89 0h1m-139 1h1m10 0h2m2 0h2m1 0h1m8 0h4m2 0h2m1 0h3m1 0h1m3 0h5m80 0h1m7 0h1m2 0h1m3 0h1m-133 1h2m2 0h2m1 0h2m1 0h3m2 0h1m1 0h2m1 0h4m1 0h3m2 0h4m1 0h1m1 0h2m83 0h2m-125 1h8m1 0h5m1 0h6m1 0h8m1 0h1m2 0h2m83 0h1m6 0h2m1 0h1m-130 1h2m1 0h5m4 0h15m1 0h1m2 0h2m1 0h1m1 0h1m1 0h1m80 0h1m7 0h1m3 0h1m-132 1h2m1 0h3m1 0h4m2 0h5m1 0h5m2 0h4m1 0h3m1 0h4m1 0h1m90 0h1m-132 1h1m1 0h1m2 0h1m1 0h6m1 0h4m1 0h1m2 0h2m1 0h3m1 0h4m1 0h2m2 0h1m-37 1h5m2 0h2m1 0h2m1 0h10m1 0h1m3 0h3m2 0h1m2 0h1m1 0h1m79 0h3m5 0h1m-128 1h5m3 0h1m3 0h3m1 0h1m3 0h9m1 0h7m1 0h3m83 0h1m-124 1h2m1 0h2m4 0h2m2 0h2m1 0h4m1 0h5m2 0h1m2 0h1m1 0h2m1 0h3m77 0h1m1 0h1m-122 1h1m3 0h3m1 0h2m1 0h2m1 0h3m2 0h2m2 0h3m1 0h5m2 0h6m1 0h2m82 0h1m-122 1h2m1 0h1m4 0h3m1 0h2m1 0h9m2 0h2m1 0h4m1 0h5m-41 1h4m2 0h4m1 0h3m1 0h1m1 0h5m4 0h5m1 0h2m1 0h4m79 0h2m-118 1h4m2 0h9m2 0h4m1 0h4m1 0h5m1 0h1m4 0h2m-41 1h1m2 0h8m1 0h1m1 0h1m1 0h1m1 0h1m2 0h8m2 0h4m2 0h4m75 0h1m-116 1h1m1 0h1m1 0h1m1 0h1m5 0h2m1 0h2m3 0h1m3 0h2m4 0h4m1 0h4m-39 1h4m2 0h5m1 0h1m1 0h1m1 0h1m2 0h4m1 0h1m1 0h2m5 0h1m1 0h2m1 0h1m74 0h1m-113 1h1m1 0h2m1 0h3m1 0h1m1 0h3m1 0h2m1 0h6m4 0h9m1 0h1m-40 1h2m1 0h1m1 0h3m4 0h1m1 0h2m2 0h1m4 0h1m1 0h3m1 0h1m1 0h2m1 0h2m3 0h1m-35 1h10m2 0h1m3 0h6m1 0h4m1 0h1m1 0h3m-35 1h1m1 0h2m2 0h2m1 0h2m1 0h5m1 0h6m1 0h5m1 0h1m1 0h3m3 0h1m-40 1h1m1 0h2m1 0h2m3 0h6m1 0h7m1 0h5m2 0h1m3 0h1m-36 1h5m1 0h2m1 0h2m5 0h5m1 0h2m2 0h1m2 0h3m1 0h1m-35 1h3m3 0h14m1 0h1m2 0h4m3 0h1m2 0h1m-34 1h4m1 0h2m1 0h3m1 0h1m1 0h5m1 0h3m3 0h1m1 0h4m1 0h2m-33 1h5m1 0h2m2 0h6m1 0h8m1 0h1m1 0h3m-32 1h6m1 0h1m1 0h7m2 0h2m1 0h2m1 0h9m-33 1h3m1 0h2m1 0h2m1 0h3m1 0h3m1 0h3m1 0h6m1 0h3m-34 1h1m1 0h1m1 0h4m1 0h1m1 0h1m1 0h7m1 0h3m2 0h8m-33 1h7m1 0h11m1 0h1m2 0h1m1 0h3m1 0h3m-31 1h1m2 0h17m1 0h2m1 0h3m2 0h1m-28 1h1m1 0h1m1 0h1m1 0h5m1 0h2m1 0h1m2 0h3m2 0h5m-27 1h9m1 0h5m1 0h1m1 0h4m2 0h1m-24 1h9m1 0h3m1 0h6m-20 1h1m2 0h12m-14 1h4m1 0h8m-14 1h1m1 0h3m1 0h1m1 0h4m1 0h1m-13 1h6m1 0h1m2 0h1m-11 1h6m2 0h1m3 0h1m-13 1h2m2 0h1m1 0h6m1 0h1m-14 1h6m1 0h1m1 0h2m-11 1h11m42 0h1m-54 1h2m1 0h2m3 0h2m-8 1h2m1 0h1m1 0h3m-9 1h1m1 0h5m-5 1h5m1 0h1m-6 1h3m39 1h1m3 0h1m-1 1h1m1 0h1m0 1h1m4 0h1m-13 2h1m4 0h1m-1 2h1m2 1h2m-2 1h1m-5 2h1m5 0h2m0 2h1m-1 1h2m-7 1h1m-2 1h1m7 2h1m-8 1h1m-7 3h1m9 0h1m-13 4h1m-1 1h2m-2 1h1m2 0h1m5 0h1m-11 1h1m1 0h1m5 0h2m1 0h5m-14 1h2m4 0h4m1 0h2m-16 1h1m1 0h1m3 0h1m3 0h2m-11 1h1m1 0h1m2 0h1m2 0h1m1 0h1m1 0h1m-11 1h1m7 0h2m-10 1h2m3 0h1m1 0h1m-2 1h2m4 0h1m-51 6h1m4 0h1m-5 1h4m-4 1h3m-4 1h1m1 0h1"/>
<path stroke="#6DB6D6" stroke-width="1" fill="none" d="M507 32.5h1m1 1h1m-5 2h1m5 0h1m-8 3h1m9 0h1m-10 1h1m-1 1h1m-27 1h1m25 1h1m-18 1h1m12 0h3m5 0h1m-7 1h1m-16 1h1m5 0h1m6 0h1m1 0h2m-2 1h1m2 0h1m-11 1h1m7 0h1m-30 1h1m8 0h1m17 0h1m2 0h2m-24 1h1m16 0h1m4 0h2m-32 1h3m11 0h1m6 0h1m4 0h1m4 0h1m-22 1h1m14 0h1m1 0h1m1 0h2m-3 1h3m-19 1h1m2 0h1m10 0h1m2 0h2m5 0h1m-35 1h1m21 0h1m-26 1h1m10 0h1m15 0h1m2 0h2m1 0h1m-7 1h3m-23 1h1m21 0h2m2 0h1m-16 1h1m8 0h2m2 0h1m12 0h1m-27 1h1m5 0h1m4 0h3m11 0h1m-27 1h1m4 0h1m4 0h1m2 0h1m1 0h1m7 0h1m-38 1h1m5 0h1m29 0h1m-34 1h1m5 0h3m1 0h1m24 0h1m-35 1h1m1 0h2m19 0h2m-15 1h1m14 0h1m-23 1h1m1 0h1m12 0h1m4 0h1m-17 1h1m5 0h1m2 0h1m-27 1h1m2 0h1m6 0h1m13 0h1m-32 1h1m8 0h1m16 0h1m12 0h1m-33 1h1m8 0h1m3 0h1m12 0h1m2 0h1m3 0h1m-41 1h1m2 0h1m1 0h2m25 0h1m-26 1h1m3 0h1m11 0h1m10 0h1m2 0h1m-10 1h2m6 0h1m-22 1h1m12 0h2m2 0h1m2 0h1m-39 1h1m12 0h1m3 0h1m6 0h1m1 0h1m5 0h1m1 0h1m-38 1h3m13 0h1m2 0h2m3 0h1m7 0h1m6 0h2m1 0h1m-42 1h1m1 0h1m18 0h4m8 0h1m2 0h1m7 0h2m-45 1h2m15 0h1m1 0h1m1 0h1m8 0h1m12 0h1m-47 1h2m19 0h1m1 0h1m2 0h1m2 0h1m3 0h1m11 0h1m1 0h1m-48 1h2m1 0h2m12 0h1m1 0h1m2 0h1m3 0h1m5 0h1m9 0h1m-43 1h1m15 0h1m1 0h1m1 0h2m6 0h1m3 0h2m1 0h1m4 0h1m3 0h1m-28 1h1m1 0h2m13 0h2m-36 1h1m17 0h1m4 0h1m4 0h2m-12 1h1m1 0h1m4 0h1m1 0h1m6 0h1m2 0h1m6 0h1m-46 1h4m15 0h1m4 0h1m112 0h1m6 0h1m-143 1h1m17 0h1m2 0h2m2 0h1m-25 1h1m137 0h1m3 0h1m-120 1h1m114 0h1m7 0h2m-148 1h1m27 0h1m115 0h2m-4 1h1m6 0h2m-152 1h2m136 0h1m5 0h1m1 0h6m-151 1h1m142 0h1m3 0h2m2 0h1m-153 1h1m149 0h2m1 0h1m-134 1h1m113 0h2m14 0h1m-11 1h2m3 0h1m1 0h2m-141 1h1m19 0h1m112 0h3m1 0h1m3 0h2m-149 1h1m3 0h1m141 0h1m4 0h1m-142 1h1m131 0h2m1 0h1m4 0h1m1 0h2m-20 1h1m3 0h2m6 0h2m3 0h1m2 0h1m-146 1h1m129 0h1m1 0h2m4 0h2m1 0h1m-146 1h1m2 0h3m128 0h1m3 0h2m1 0h3m-146 1h1m6 0h1m24 0h1m102 0h1m7 0h2m4 0h3m-152 1h1m8 0h1m12 0h1m114 0h1m1 0h1m2 0h3m1 0h1m2 0h1m-146 1h1m5 0h1m125 0h1m4 0h1m7 0h1m3 0h1m-155 1h1m137 0h1m6 0h1m1 0h3m1 0h1m-151 1h1m17 0h1m120 0h1m1 0h1m2 0h1m3 0h3m-11 1h1m1 0h1m6 0h1m-143 1h1m1 0h1m125 0h1m2 0h1m1 0h1m3 0h2m2 0h2m-104 1h1m89 0h1m4 0h1m5 0h2m1 0h1m-17 1h1m10 0h2m2 0h1m-14 1h2m1 0h2m3 0h1m2 0h1m-11 1h1m1 0h2m4 0h1m2 0h1m-9 1h1m4 0h1m-8 1h2m2 0h4m-93 1h1m87 0h1m1 0h1m-7 1h1m2 0h1m-1 1h1m1 0h1m-6 1h1m-4 2h1m-109 3h1m47 43h1m3 4h1m-3 2h1m-4 7h2m-7 1h1m-5 1h1m1 0h1m3 0h1m2 0h1m-9 1h1m4 0h1m2 0h1m2 0h1m1 0h1m-9 1h2m4 0h2m2 0h1m-17 1h1m6 0h4m2 0h2m1 0h1m-10 1h1m1 0h1m1 0h3m1 0h2m-4 1h1m1 0h2m-8 1h1m-4 1h4m3 0h1m1 0h1m-10 1h1m2 0h1m1 0h1m2 0h2m-43 5h2m-1 1h2m1 0h1m1 0h1m-2 1h1m-2 1h1m-2 2h1"/>
<path stroke="#B42B40" stroke-width="1" fill="none" d="M505 31.5h1m1 0h1m1 0h2m2 0h1m2 0h1m-9 1h1m1 0h3m-6 1h1m2 0h5m-22 1h1m12 0h4m1 0h1m2 0h3m-10 1h4m2 0h4m-9 1h3m1 0h5m-36 1h1m24 0h4m1 0h2m2 0h1m1 0h1m-27 1h1m10 0h1m3 0h8m1 0h4m-16 1h2m1 0h1m1 0h8m1 0h2m-38 1h1m22 0h1m1 0h1m1 0h3m1 0h3m1 0h2m-14 1h1m2 0h3m1 0h1m1 0h1m2 0h3m-16 1h2m2 0h1m1 0h2m1 0h3m2 0h2m-15 1h5m1 0h2m1 0h5m-34 1h1m17 0h1m1 0h9m2 0h3m-16 1h1m2 0h3m1 0h2m1 0h1m1 0h3m-40 1h1m24 0h1m1 0h2m1 0h2m1 0h4m1 0h2m-36 1h1m20 0h1m2 0h3m3 0h4m1 0h1m-17 1h2m5 0h3m2 0h5m-36 1h1m20 0h3m3 0h2m1 0h2m1 0h2m-14 1h1m2 0h1m2 0h9m-38 1h1m26 0h1m2 0h4m1 0h4m1 0h1m-19 1h2m3 0h13m-28 1h1m11 0h1m2 0h2m1 0h2m1 0h1m1 0h2m1 0h4m1 0h1m-47 1h1m25 0h2m1 0h7m2 0h2m1 0h1m-16 1h2m2 0h1m1 0h1m2 0h1m1 0h1m3 0h4m-17 1h7m1 0h1m3 0h1m1 0h3m-19 1h1m2 0h2m1 0h2m3 0h7m1 0h1m-24 1h1m1 0h1m6 0h5m1 0h5m1 0h3m-20 1h1m6 0h4m1 0h3m2 0h2m-38 1h1m21 0h1m1 0h3m1 0h2m3 0h3m-41 1h1m1 0h1m1 0h1m20 0h3m1 0h3m2 0h1m1 0h6m-23 1h1m2 0h1m3 0h1m1 0h1m1 0h1m1 0h5m2 0h3m-42 1h1m11 0h1m15 0h4m1 0h4m1 0h1m-34 1h1m8 0h1m12 0h1m1 0h1m1 0h2m1 0h7m-32 1h1m19 0h1m1 0h2m1 0h1m2 0h1m1 0h1m1 0h1m-33 1h1m20 0h3m1 0h6m-30 1h1m7 0h1m9 0h1m1 0h6m2 0h1m-51 1h1m17 0h2m14 0h1m6 0h2m1 0h1m1 0h5m-12 1h1m1 0h8m-20 1h1m8 0h1m2 0h5m3 0h1m-52 1h1m16 0h1m12 0h1m8 0h3m3 0h1m1 0h1m1 0h1m2 0h1m-54 1h1m30 0h1m6 0h1m-47 1h1m19 0h1m2 0h1m2 0h1m3 0h1m1 0h1m9 0h1m3 0h1m-48 1h3m18 0h1m4 0h1m2 0h1m18 0h1m-51 1h1m1 0h1m1 0h2m18 0h1m19 0h1m-46 1h2m1 0h2m19 0h1m15 0h1m-41 1h3m20 0h1m5 0h1m6 0h1m3 0h1m-40 1h1m2 0h2m18 0h1m3 0h1m13 0h1m-40 1h2m17 0h1m4 0h1m12 0h1m6 0h1m-46 1h4m19 0h1m14 0h1m3 0h1m-39 1h1m15 0h1m9 0h1m3 0h1m6 0h1m-11 1h1m15 0h1m100 0h1m-123 1h1m3 0h1m13 0h1m7 0h1m87 0h1m1 0h1m1 0h2m-123 1h1m118 0h2m4 0h1m-125 1h1m113 0h2m1 0h2m1 0h3m3 0h1m-104 1h1m91 0h3m3 0h2m2 0h3m2 0h1m-15 1h1m2 0h1m2 0h1m1 0h1m-6 1h1m1 0h1m1 0h3m2 0h2m-15 1h1m1 0h2m1 0h3m2 0h2m3 0h1m-18 1h1m1 0h3m2 0h1m3 0h1m1 0h1m-125 1h1m111 0h4m2 0h3m-6 1h1m1 0h4m2 0h3m1 0h1m3 0h1m1 0h1m-150 1h1m3 0h1m123 0h1m2 0h1m1 0h2m1 0h2m2 0h2m1 0h2m1 0h2m-150 1h1m4 0h1m126 0h3m5 0h2m7 0h2m-150 1h1m1 0h2m42 0h1m85 0h1m3 0h1m3 0h1m1 0h1m6 0h1m-150 1h2m2 0h1m131 0h6m3 0h2m1 0h1m-148 1h3m1 0h1m126 0h3m1 0h2m1 0h1m2 0h1m1 0h2m6 0h1m-154 1h1m1 0h6m1 0h1m17 0h1m104 0h1m1 0h1m1 0h1m5 0h3m2 0h3m1 0h1m-153 1h8m127 0h1m1 0h2m1 0h1m2 0h1m2 0h1m6 0h1m-151 1h2m1 0h2m74 0h1m52 0h4m1 0h1m4 0h1m3 0h2m2 0h2m-154 1h2m1 0h1m2 0h2m3 0h1m70 0h1m51 0h2m4 0h3m4 0h4m-151 1h2m1 0h1m2 0h1m5 0h1m67 0h2m1 0h2m51 0h1m1 0h1m13 0h1m-153 1h6m1 0h1m74 0h3m52 0h1m9 0h3m-150 1h1m1 0h5m4 0h1m19 0h1m49 0h1m2 0h2m1 0h1m47 0h2m1 0h1m3 0h1m4 0h1m7 0h1m-156 1h2m2 0h1m132 0h1m4 0h1m4 0h1m-146 1h5m1 0h2m125 0h1m1 0h1m3 0h1m5 0h1m2 0h1m-150 1h5m135 0h1m2 0h1m4 0h1m-150 1h3m1 0h3m130 0h1m1 0h1m1 0h1m-139 1h3m132 0h1m1 0h1m4 0h1m3 0h2m-150 1h1m4 0h1m133 0h1m2 0h1m6 0h2m-9 1h1m4 0h1m-11 1h2m1 0h1m2 0h1m3 0h1m-11 1h1m4 0h1m-3 1h2m-5 1h1m5 0h2m-9 1h1m1 0h2m-4 1h1m2 0h1m-5 1h1m1 0h2m1 0h1m-83 1h1m79 0h1m-4 1h1m-2 1h1m-3 1h1m-1 1h1m2 0h1m-57 32h1m-1 1h2m4 0h1m-7 1h5m-5 1h2m1 0h1m-3 1h1m1 0h4m-3 1h4m-5 1h2m2 0h1m-2 1h1m-2 1h2m1 0h2m-2 11h1m-20 3h4m-6 1h4m1 0h1m1 0h1m-9 1h4m2 0h1m1 0h1m-6 1h2m2 0h2m-7 1h4m2 0h1m-9 1h3m1 0h1m3 0h1m10 0h1m-19 1h1m1 0h4m14 0h1m-21 1h6m17 0h1m-23 1h7m9 0h1m4 0h2m-26 1h1m1 0h1m1 0h2m3 0h1m7 0h1m1 0h1m2 0h2m1 0h1m-23 1h1m1 0h2m13 0h2m1 0h1m-16 1h1m12 0h1m-14 1h1"/>
</g>
<circle cx="635.4" cy="47.4" r="4.6" fill="#EFE2D4"/>
<text x="647.7" y="51.4" font-size="8.8" fill="#222">MOSR3</text>
<circle cx="635.4" cy="61.8" r="4.6" fill="#D8E6EF"/>
<text x="647.7" y="65.8" font-size="8.8" fill="#222">MOSR8</text>
<circle cx="635.4" cy="77.5" r="4.6" fill="#6DB6D6"/>
<text x="647.7" y="81.5" font-size="8.8" fill="#222">MOSR9</text>
<circle cx="635.4" cy="93.9" r="4.6" fill="#B42B40"/>
<text x="647.7" y="97.9" font-size="8.8" fill="#222">MOSR10</text>
<circle cx="635.4" cy="108.5" r="4.6" fill="#E69A77"/>
<text x="647.7" y="112.5" font-size="8.8" fill="#222">MOSR12</text>
<path d="M60 272V454.7H237.5" stroke="#8a8a8a" stroke-width="1" fill="none"/><path d="M57.5 290.1H60" stroke="#8a8a8a" stroke-width="1"/><text x="56.5" y="292.5" font-size="7.5" fill="#222" text-anchor="end">5</text><path d="M57.5 343.2H60" stroke="#8a8a8a" stroke-width="1"/><text x="56.5" y="345.6" font-size="7.5" fill="#222" text-anchor="end">0</text><path d="M57.5 396.1H60" stroke="#8a8a8a" stroke-width="1"/><text x="56.5" y="398.5" font-size="7.5" fill="#222" text-anchor="end" letter-spacing="-0.53">–5</text><path d="M57.5 449H60" stroke="#8a8a8a" stroke-width="1"/><text x="56.5" y="451.4" font-size="7.5" fill="#222" text-anchor="end" letter-spacing="-0.53">–10</text><path d="M85.8 454.7V457.2" stroke="#8a8a8a" stroke-width="1"/><text x="85.8" y="464.6" font-size="7.5" fill="#222" text-anchor="middle" letter-spacing="-0.53">–5</text><path d="M126 454.7V457.2" stroke="#8a8a8a" stroke-width="1"/><text x="126" y="464.6" font-size="7.5" fill="#222" text-anchor="middle">0</text><path d="M165.8 454.7V457.2" stroke="#8a8a8a" stroke-width="1"/><text x="165.8" y="464.6" font-size="7.5" fill="#222" text-anchor="middle">5</text><path d="M206 454.7V457.2" stroke="#8a8a8a" stroke-width="1"/><text x="206" y="464.6" font-size="7.5" fill="#222" text-anchor="middle">10</text><text x="0" y="0" transform="translate(37.8,361.6) rotate(-90)" font-size="10" fill="#222" text-anchor="middle">UMAP_2</text><text x="134" y="484.5" font-size="10" fill="#222" text-anchor="middle">UMAP_1</text>
<g shape-rendering="crispEdges" filter="url(#soft)"><path stroke="#E488C4" stroke-width="1" fill="none" d="M102 278.5h1m18 3h1m1 0h1m1 0h2m2 0h1m2 0h1m-25 1h1m14 0h2m1 0h3m-31 1h2m2 0h3m2 0h4m1 0h1m10 0h1m2 0h4m-33 1h2m2 0h1m2 0h1m1 0h1m1 0h1m2 0h3m7 0h5m1 0h1m2 0h3m-39 1h2m3 0h3m4 0h1m2 0h1m1 0h1m11 0h4m2 0h4m-40 1h3m3 0h1m6 0h1m1 0h4m1 0h1m10 0h3m1 0h5m-39 1h3m1 0h1m1 0h4m3 0h1m1 0h2m11 0h4m1 0h1m3 0h1m1 0h1m-38 1h2m4 0h2m1 0h2m1 0h1m1 0h3m1 0h1m2 0h2m1 0h1m2 0h12m-40 1h2m2 0h1m2 0h1m3 0h4m1 0h1m1 0h2m1 0h1m2 0h4m1 0h6m1 0h1m1 0h2m-43 1h1m3 0h1m3 0h3m2 0h3m1 0h1m1 0h3m6 0h6m1 0h4m1 0h2m-42 1h3m2 0h1m1 0h1m2 0h7m1 0h4m1 0h1m1 0h1m2 0h1m3 0h2m1 0h1m1 0h1m2 0h3m-43 1h1m5 0h3m1 0h1m1 0h3m1 0h8m3 0h3m1 0h9m2 0h1m-44 1h3m4 0h1m3 0h1m1 0h2m1 0h1m1 0h1m1 0h3m1 0h1m1 0h11m1 0h5m-39 1h4m2 0h2m2 0h3m1 0h4m1 0h2m2 0h11m1 0h4m-43 1h1m2 0h1m3 0h2m6 0h4m3 0h3m2 0h1m1 0h4m1 0h1m2 0h5m-41 1h1m2 0h2m5 0h1m1 0h6m2 0h2m1 0h2m1 0h7m1 0h1m1 0h2m1 0h2m-43 1h1m3 0h1m1 0h8m6 0h2m6 0h1m1 0h5m2 0h6m-37 1h3m4 0h4m1 0h2m1 0h4m1 0h3m3 0h4m2 0h5m-35 1h3m1 0h2m1 0h6m1 0h3m3 0h5m1 0h2m1 0h4m-38 1h1m4 0h1m1 0h1m1 0h2m3 0h3m1 0h1m2 0h2m1 0h4m1 0h1m1 0h1m1 0h4m1 0h2m-41 1h1m2 0h3m1 0h2m2 0h1m1 0h1m1 0h2m2 0h3m1 0h1m2 0h1m1 0h2m2 0h12m-43 1h1m1 0h1m4 0h1m2 0h1m1 0h1m2 0h1m1 0h1m1 0h1m1 0h22m-45 1h1m4 0h1m1 0h2m3 0h1m2 0h1m2 0h1m1 0h5m3 0h2m1 0h2m1 0h4m1 0h2m2 0h1m1 0h1m1 0h1m-45 1h1m2 0h1m1 0h1m4 0h5m1 0h2m1 0h1m4 0h2m1 0h5m1 0h1m1 0h3m1 0h2m-43 1h5m2 0h1m2 0h1m1 0h5m1 0h2m1 0h10m1 0h4m5 0h4m-46 1h1m3 0h1m2 0h3m1 0h2m2 0h1m2 0h3m1 0h1m3 0h10m1 0h2m2 0h1m1 0h3m-43 1h1m4 0h4m1 0h1m1 0h1m1 0h1m3 0h4m1 0h6m1 0h2m3 0h6m2 0h1m-45 1h2m4 0h1m1 0h3m1 0h1m1 0h2m1 0h1m2 0h1m1 0h2m1 0h1m4 0h1m1 0h3m1 0h1m1 0h3m1 0h3m-46 1h2m4 0h1m1 0h1m2 0h1m1 0h1m1 0h1m3 0h3m1 0h1m1 0h5m1 0h1m2 0h3m1 0h2m3 0h2m-43 1h2m1 0h1m1 0h4m3 0h3m2 0h4m1 0h1m1 0h8m1 0h2m3 0h3m-43 1h1m5 0h1m1 0h3m2 0h3m1 0h4m1 0h6m1 0h1m1 0h1m1 0h1m2 0h1m1 0h6m-42 1h2m1 0h1m1 0h2m6 0h2m1 0h6m1 0h4m1 0h1m1 0h1m1 0h5m2 0h3m-44 1h1m2 0h1m8 0h1m4 0h5m1 0h4m1 0h6m1 0h3m2 0h1m-41 1h2m1 0h1m1 0h3m1 0h3m3 0h2m1 0h2m1 0h2m1 0h1m3 0h4m1 0h2m1 0h7m-47 1h1m5 0h1m3 0h1m2 0h1m3 0h1m4 0h3m1 0h1m1 0h1m1 0h2m3 0h1m1 0h1m2 0h2m1 0h3m1 0h1m-50 1h2m2 0h1m1 0h1m1 0h2m1 0h1m1 0h1m2 0h1m1 0h4m2 0h3m2 0h2m2 0h1m2 0h1m1 0h10m-40 1h1m3 0h5m1 0h1m1 0h4m2 0h3m1 0h3m1 0h1m1 0h1m1 0h3m1 0h2m1 0h2m-53 1h1m8 0h1m2 0h1m2 0h3m1 0h1m1 0h2m2 0h1m2 0h2m1 0h1m1 0h5m5 0h2m1 0h3m1 0h2m-45 1h1m5 0h1m5 0h2m2 0h1m2 0h1m1 0h3m1 0h1m1 0h2m2 0h2m1 0h1m1 0h5m1 0h3m-52 1h1m2 0h1m1 0h2m4 0h1m2 0h1m5 0h3m3 0h2m3 0h2m1 0h3m1 0h4m1 0h5m-48 1h1m6 0h1m7 0h2m2 0h2m5 0h2m1 0h2m2 0h3m2 0h3m4 0h1m1 0h1m1 0h1m2 0h1m-54 1h1m19 0h1m1 0h1m2 0h2m3 0h4m2 0h1m1 0h3m-46 1h1m15 0h2m2 0h3m1 0h1m3 0h2m1 0h4m1 0h2m1 0h1m1 0h3m1 0h2m-51 1h1m3 0h1m16 0h2m1 0h4m3 0h1m3 0h2m4 0h1m1 0h3m1 0h2m1 0h1m-52 1h1m3 0h2m2 0h1m13 0h1m1 0h1m2 0h4m2 0h1m3 0h2m2 0h6m2 0h3m-52 1h4m3 0h1m12 0h3m1 0h2m1 0h2m2 0h2m1 0h1m1 0h4m1 0h2m3 0h6m-52 1h2m4 0h1m2 0h1m11 0h2m1 0h2m1 0h4m1 0h1m1 0h1m3 0h3m2 0h1m3 0h2m1 0h1m-30 1h5m1 0h4m1 0h3m2 0h1m1 0h1m1 0h2m1 0h6m1 0h1m-53 1h1m2 0h1m3 0h1m8 0h1m4 0h1m1 0h6m2 0h1m2 0h1m2 0h3m1 0h6m-46 1h1m2 0h1m16 0h2m2 0h1m2 0h2m1 0h1m2 0h2m1 0h4m1 0h3m1 0h1m1 0h3m-45 1h2m13 0h1m2 0h2m2 0h1m1 0h2m1 0h3m1 0h7m1 0h1m1 0h5m-48 1h1m1 0h1m14 0h1m2 0h1m2 0h2m1 0h4m2 0h1m2 0h1m1 0h1m1 0h1m1 0h2m1 0h5m-49 1h1m18 0h2m1 0h4m2 0h1m1 0h1m6 0h3m1 0h1m1 0h3m3 0h1m92 0h1m-142 1h1m1 0h1m17 0h3m1 0h3m1 0h1m3 0h1m1 0h3m1 0h1m3 0h1m-18 1h2m3 0h3m5 0h2m3 0h2m93 0h1m6 0h1m-144 1h1m19 0h8m1 0h4m2 0h1m3 0h1m-22 1h7m1 0h7m1 0h5m1 0h1m1 0h2m1 0h1m-46 1h1m17 0h5m2 0h1m2 0h4m1 0h1m1 0h2m1 0h2m3 0h3m16 0h1m2 0h3m75 0h1m-127 1h1m1 0h1m2 0h2m1 0h2m1 0h2m3 0h4m1 0h2m1 0h2m1 0h2m1 0h1m14 0h4m1 0h1m78 0h1m-148 1h2m18 0h2m1 0h3m2 0h3m1 0h4m2 0h2m1 0h1m3 0h1m1 0h2m13 0h2m1 0h4m63 0h1m5 0h1m-138 1h1m17 0h1m1 0h3m3 0h4m1 0h3m1 0h2m1 0h1m1 0h2m1 0h3m15 0h3m1 0h2m67 0h1m13 0h1m-150 1h1m16 0h3m1 0h2m1 0h2m2 0h6m3 0h5m1 0h5m14 0h2m2 0h2m71 0h1m13 0h1m-137 1h1m2 0h1m1 0h1m1 0h2m1 0h2m1 0h3m2 0h6m1 0h1m2 0h1m17 0h2m68 0h1m6 0h1m-120 1h2m1 0h2m1 0h1m1 0h2m1 0h10m2 0h1m3 0h1m16 0h1m71 0h1m2 0h1m-139 1h1m5 0h1m9 0h4m1 0h3m7 0h2m1 0h1m4 0h1m2 0h2m4 0h1m12 0h2m80 0h1m-142 1h1m1 0h2m2 0h1m6 0h3m2 0h7m1 0h3m3 0h5m1 0h2m1 0h3m91 0h1m-129 1h2m6 0h2m1 0h5m2 0h2m1 0h3m1 0h2m2 0h2m2 0h8m83 0h1m13 0h1m-142 1h1m1 0h1m9 0h3m1 0h1m1 0h7m1 0h3m1 0h1m1 0h8m2 0h1m85 0h1m2 0h1m-130 1h1m7 0h4m2 0h1m7 0h2m1 0h4m1 0h3m1 0h3m1 0h1m2 0h1m32 0h1m51 0h1m7 0h2m-134 1h4m6 0h5m1 0h2m2 0h4m1 0h4m4 0h1m3 0h5m31 0h1m55 0h1m7 0h2m-146 1h2m12 0h2m1 0h4m1 0h1m2 0h2m1 0h1m1 0h3m1 0h1m3 0h2m1 0h2m6 0h1m30 0h1m1 0h1m65 0h1m-148 1h1m5 0h4m3 0h3m1 0h2m1 0h1m1 0h5m1 0h1m1 0h2m1 0h6m1 0h2m1 0h3m1 0h2m29 0h1m1 0h2m61 0h1m5 0h1m-152 1h1m3 0h4m7 0h4m1 0h1m3 0h1m2 0h2m1 0h1m1 0h1m1 0h3m2 0h3m1 0h5m3 0h1m30 0h1m1 0h1m1 0h1m51 0h1m-136 1h1m3 0h1m1 0h1m1 0h1m3 0h1m1 0h1m1 0h2m1 0h3m2 0h6m1 0h1m1 0h6m5 0h5m1 0h1m26 0h1m2 0h1m69 0h1m-153 1h1m7 0h2m6 0h1m2 0h1m1 0h1m2 0h2m1 0h1m3 0h2m1 0h5m1 0h3m1 0h1m1 0h1m1 0h3m88 0h1m4 0h1m-140 1h1m8 0h1m1 0h1m1 0h6m3 0h2m1 0h7m2 0h4m1 0h1m1 0h1m1 0h1m2 0h1m1 0h1m80 0h2m-135 1h1m3 0h1m1 0h1m1 0h1m4 0h4m2 0h2m5 0h1m1 0h4m1 0h1m3 0h1m1 0h2m1 0h5m1 0h1m2 0h2m88 0h1m-143 1h1m4 0h1m12 0h1m1 0h5m4 0h1m2 0h4m1 0h3m1 0h3m1 0h1m4 0h2m1 0h1m-52 1h1m1 0h1m12 0h2m2 0h1m1 0h1m1 0h4m1 0h1m1 0h1m1 0h1m1 0h1m1 0h3m1 0h4m2 0h5m1 0h2m80 0h1m2 0h1m1 0h1m6 0h1m-132 1h6m2 0h1m2 0h2m1 0h6m2 0h1m1 0h5m1 0h1m2 0h1m87 0h1m-123 1h2m1 0h2m1 0h4m3 0h11m1 0h1m2 0h2m1 0h2m1 0h1m1 0h1m1 0h1m1 0h1m80 0h1m-121 1h1m1 0h2m2 0h1m1 0h2m2 0h5m1 0h5m2 0h3m2 0h3m1 0h1m1 0h2m1 0h1m-40 1h2m2 0h1m1 0h3m1 0h1m3 0h3m1 0h2m1 0h2m2 0h1m2 0h4m1 0h2m1 0h2m-38 1h5m1 0h1m2 0h1m1 0h2m3 0h2m2 0h8m1 0h2m2 0h3m1 0h1m1 0h2m-41 1h2m2 0h2m2 0h1m2 0h1m1 0h3m1 0h2m1 0h2m1 0h8m1 0h1m1 0h3m1 0h2m78 0h1m-118 1h6m4 0h1m2 0h1m2 0h3m2 0h2m1 0h1m1 0h1m4 0h1m1 0h2m1 0h2m79 0h1m1 0h1m-123 1h1m3 0h1m1 0h1m2 0h1m1 0h7m1 0h1m1 0h1m1 0h3m1 0h3m1 0h1m1 0h1m1 0h1m1 0h3m1 0h2m79 0h1m-119 1h2m1 0h1m2 0h1m1 0h5m3 0h1m1 0h3m1 0h1m3 0h2m1 0h3m1 0h6m-40 1h4m1 0h1m2 0h1m3 0h3m1 0h1m2 0h3m1 0h1m1 0h5m1 0h2m1 0h2m1 0h1m78 0h1m-116 1h15m2 0h3m3 0h1m3 0h5m1 0h1m2 0h4m-41 1h1m2 0h8m1 0h3m1 0h1m1 0h1m2 0h5m5 0h4m2 0h4m-40 1h3m3 0h1m1 0h2m1 0h3m1 0h1m3 0h1m2 0h1m1 0h2m4 0h3m2 0h4m-39 1h4m2 0h3m3 0h1m1 0h1m1 0h1m2 0h4m1 0h1m1 0h2m1 0h1m1 0h3m1 0h1m3 0h1m-39 1h1m2 0h1m1 0h1m3 0h1m2 0h2m1 0h8m1 0h1m1 0h1m2 0h6m1 0h1m-37 1h1m3 0h4m1 0h1m1 0h1m1 0h2m2 0h1m3 0h2m2 0h2m1 0h1m1 0h3m1 0h1m3 0h1m-35 1h1m1 0h12m2 0h6m1 0h1m1 0h2m3 0h3m-35 1h1m1 0h2m2 0h1m2 0h2m1 0h8m1 0h3m1 0h5m1 0h1m1 0h3m3 0h1m-40 1h4m1 0h3m2 0h4m1 0h1m1 0h13m2 0h1m1 0h1m1 0h1m-36 1h5m2 0h3m3 0h2m1 0h2m1 0h2m4 0h2m2 0h3m-32 1h2m1 0h1m1 0h1m3 0h3m1 0h6m1 0h2m1 0h2m1 0h1m3 0h2m1 0h1m-32 1h1m1 0h3m1 0h5m1 0h5m3 0h1m1 0h1m1 0h1m1 0h4m1 0h2m-33 1h5m1 0h2m2 0h1m2 0h3m1 0h2m1 0h2m2 0h1m1 0h1m1 0h2m-31 1h6m1 0h1m1 0h7m3 0h1m1 0h2m2 0h8m-33 1h5m2 0h2m1 0h3m1 0h3m1 0h1m1 0h1m1 0h5m2 0h3m-33 1h2m1 0h1m1 0h2m1 0h11m1 0h3m2 0h4m1 0h2m-30 1h6m1 0h9m2 0h1m2 0h1m1 0h2m2 0h1m-25 1h1m1 0h13m1 0h3m1 0h2m1 0h2m-25 1h1m1 0h12m3 0h2m2 0h2m-24 1h4m1 0h6m1 0h1m1 0h1m1 0h6m2 0h1m-24 1h13m1 0h4m1 0h1m-20 1h2m1 0h3m1 0h7m-14 1h1m2 0h2m1 0h6m1 0h1m-12 1h1m1 0h1m1 0h1m1 0h4m-11 1h6m1 0h1m2 0h1m1 0h1m-13 1h4m3 0h2m4 0h1m-14 1h3m1 0h1m1 0h6m-11 1h10m-11 1h2m1 0h4m2 0h2m41 0h1m-51 1h1m5 0h2m-8 1h2m1 0h5m-7 1h2m2 0h1m1 0h1m-7 1h4m-2 1h2m39 1h1m3 0h1m1 1h1m5 0h1m-6 1h1m-3 1h1m-1 3h1m1 1h1m-4 3h1m5 0h2m0 2h1m-6 1h1m3 0h1m-5 4h1m6 0h1m-5 3h1m-19 2h1m-3 2h2m-2 1h1m0 1h1m9 0h1m5 1h1m2 0h1m-22 1h1m4 0h1m14 0h2m1 0h2m-23 1h1m16 0h2m1 0h1m-19 1h1m13 0h2m-15 1h1m7 0h1m5 0h2m2 0h1m-8 1h1m-15 1h1m14 0h1m1 0h1m-13 1h1m7 0h1m7 0h1m-51 5h2m2 0h1m-4 1h3m1 0h2m-2 1h1m-2 1h1m-2 1h1"/>
<path stroke="#8A8D93" stroke-width="1" fill="none" d="M102 281.5h1m-1 1h1m1 0h1m4 0h1m-13 1h1m2 0h2m3 0h1m19 0h1m4 0h1m-35 1h1m2 0h2m4 0h1m3 0h2m-14 1h2m3 0h4m1 0h1m2 0h1m1 0h2m13 0h1m-32 1h1m3 0h6m1 0h1m-11 1h1m1 0h1m5 0h2m1 0h1m2 0h1m1 0h1m14 0h1m-30 1h3m2 0h1m2 0h1m1 0h1m-18 1h2m4 0h1m1 0h2m1 0h3m4 0h1m19 0h1m-41 1h1m2 0h3m1 0h1m10 0h1m1 0h1m3 0h2m-21 1h2m1 0h1m1 0h2m7 0h1m4 0h1m-20 1h2m4 0h1m31 0h1m-40 1h2m1 0h1m1 0h1m1 0h1m4 0h1m7 0h1m-21 1h1m5 0h1m3 0h1m-13 1h2m1 0h3m2 0h1m1 0h3m5 0h1m1 0h1m3 0h2m-27 1h1m1 0h2m5 0h2m1 0h1m6 0h2m2 0h1m12 0h1m-37 1h3m10 0h4m1 0h1m2 0h3m-25 1h1m1 0h1m2 0h1m3 0h4m12 0h1m5 0h1m-31 1h2m4 0h1m6 0h1m-14 1h2m2 0h3m1 0h1m1 0h1m2 0h3m5 0h2m-23 1h1m1 0h2m6 0h1m2 0h1m1 0h1m2 0h1m4 0h1m2 0h1m-26 1h1m3 0h2m3 0h2m8 0h1m-20 1h2m1 0h1m1 0h1m4 0h1m1 0h2m1 0h2m-17 1h2m1 0h2m3 0h3m6 0h1m5 0h2m9 0h1m-36 1h1m5 0h2m1 0h2m21 0h1m-32 1h3m1 0h1m15 0h1m-21 1h2m1 0h4m4 0h1m1 0h1m4 0h1m12 0h1m-28 1h3m7 0h1m7 0h1m19 0h1m-41 1h2m1 0h1m1 0h1m2 0h1m1 0h1m3 0h1m5 0h1m10 0h1m7 0h1m-42 1h1m3 0h1m1 0h1m11 0h1m6 0h1m12 0h1m-37 1h1m1 0h1m2 0h1m3 0h2m15 0h1m8 0h1m-38 1h1m3 0h1m1 0h1m3 0h1m1 0h1m1 0h1m2 0h1m6 0h1m14 0h1m-38 1h1m1 0h8m2 0h1m1 0h1m-9 1h1m3 0h3m-15 1h1m4 0h1m1 0h2m1 0h3m8 0h1m1 0h1m10 0h1m-44 1h1m12 0h1m1 0h1m1 0h1m2 0h1m14 0h1m-22 1h1m5 0h1m7 0h1m15 0h1m-46 1h1m11 0h1m3 0h1m1 0h1m2 0h2m1 0h1m3 0h1m8 0h2m8 0h1m-35 1h4m2 0h2m1 0h2m7 0h1m2 0h1m11 0h1m-32 1h3m9 0h1m3 0h1m-17 1h2m2 0h1m1 0h1m1 0h1m2 0h1m8 0h1m-18 1h1m1 0h1m11 0h1m1 0h1m-20 1h1m2 0h2m2 0h1m4 0h1m2 0h1m1 0h1m-25 1h1m2 0h1m5 0h2m2 0h2m5 0h1m5 0h1m2 0h1m-30 1h1m1 0h1m1 0h1m9 0h1m3 0h1m7 0h2m-23 1h1m2 0h2m13 0h2m-15 1h1m1 0h1m2 0h2m3 0h2m1 0h3m2 0h1m-19 1h1m3 0h2m1 0h1m1 0h1m2 0h1m6 0h1m-30 1h1m12 0h1m4 0h1m7 0h2m-27 1h2m1 0h1m3 0h1m2 0h1m7 0h1m3 0h1m-23 1h1m12 0h1m7 0h1m-22 1h1m10 0h2m2 0h1m1 0h1m6 0h1m-23 1h1m4 0h2m5 0h4m9 0h1m-23 1h1m7 0h1m5 0h1m2 0h1m2 0h1m-24 1h1m1 0h1m1 0h1m8 0h1m2 1h1m-10 1h1m-2 1h1m7 0h1m-3 1h1m-10 1h1m20 1h1m-24 1h1m0 1h1m11 0h1m13 1h1m-20 1h1m3 0h1m4 0h1m9 0h1m-13 1h1m-13 2h1m1 0h1m17 1h1m-10 2h1m-8 1h1m2 1h1m21 0h1m-33 1h1m8 0h1m-7 1h1m-4 1h1m22 0h1m4 0h1m-27 2h1m28 0h1m7 0h1m-26 1h1m17 0h1m-10 1h1m1 0h1m-20 1h1m4 2h1m1 0h2m11 0h1m14 0h1m-26 1h1m16 0h1m4 0h1m-35 1h1m28 0h1m-8 1h1m-22 1h1m24 0h1m3 0h1m1 1h1m-35 1h1m17 0h1m18 0h1m2 0h1m-17 1h1m1 0h2m0 1h2m-24 1h1m2 0h1m8 0h1m21 1h1m-3 1h1m-34 1h1m25 1h1m-23 2h1m2 2h1m5 0h1m-13 1h2m11 1h2m9 0h2m3 3h1m-3 1h1m-27 1h1m1 0h1m16 0h1m6 0h1m2 0h1m-14 2h1m34 19h1m-2 6h1m13 3h1"/>
<path stroke="#7DBFE0" stroke-width="1" fill="none" d="M71 323.5h2m2 0h1m1 0h1m-7 1h1m1 0h1m1 0h3m-10 1h1m1 0h1m1 0h1m2 0h2m-9 1h1m5 0h2m1 0h1m-10 1h1m3 0h3m1 0h2m-10 1h1m3 0h6m-8 1h1m3 0h1m1 0h1m-7 1h2m1 0h2m-3 1h2m-1 1h1m137 0h1m1 0h1m3 0h1m-10 1h3m1 0h2m-140 1h1m1 0h1m131 0h2m1 0h2m1 0h3m1 0h1m-144 1h1m131 0h1m1 0h2m1 0h6m-145 1h2m133 0h3m2 0h3m1 0h6m-149 1h1m1 0h1m129 0h4m2 0h1m3 0h2m1 0h4m-16 1h1m1 0h1m2 0h1m1 0h4m1 0h4m-148 1h1m132 0h1m1 0h3m1 0h1m1 0h4m3 0h3m-19 1h3m3 0h1m3 0h9m-19 1h1m2 0h5m1 0h1m2 0h1m1 0h1m2 0h1m1 0h1m3 0h1m-23 1h1m1 0h3m1 0h3m1 0h4m1 0h1m1 0h2m1 0h1m-150 1h2m3 0h1m123 0h3m1 0h2m1 0h2m2 0h4m1 0h3m-149 1h1m3 0h1m126 0h1m2 0h2m1 0h1m1 0h5m1 0h1m1 0h2m-148 1h3m3 0h1m124 0h2m1 0h6m2 0h1m1 0h1m2 0h2m1 0h1m-154 1h1m2 0h1m3 0h1m126 0h2m2 0h1m1 0h5m2 0h3m1 0h1m1 0h1m-151 1h6m126 0h1m2 0h2m1 0h1m1 0h4m2 0h2m1 0h3m-154 1h5m1 0h1m127 0h2m1 0h1m1 0h2m1 0h1m2 0h2m2 0h3m1 0h1m-155 1h1m1 0h6m1 0h1m127 0h4m5 0h4m1 0h2m-152 1h1m1 0h4m1 0h1m125 0h1m1 0h3m1 0h1m1 0h5m2 0h6m-153 1h1m4 0h2m4 0h1m121 0h7m1 0h1m2 0h1m1 0h3m1 0h2m-153 1h3m1 0h1m2 0h1m72 0h1m1 0h1m48 0h1m3 0h2m1 0h2m1 0h1m1 0h1m1 0h1m1 0h2m1 0h2m-152 1h1m1 0h3m4 0h4m69 0h1m1 0h1m50 0h1m1 0h2m1 0h4m2 0h1m1 0h3m3 0h2m-156 1h1m1 0h1m2 0h2m128 0h6m1 0h1m3 0h5m1 0h1m-153 1h2m2 0h1m2 0h1m128 0h2m4 0h3m2 0h7m-152 1h4m2 0h2m125 0h1m4 0h1m1 0h3m2 0h1m2 0h1m-150 1h2m1 0h2m2 0h1m129 0h3m4 0h3m1 0h3m-152 1h2m1 0h4m129 0h5m1 0h1m1 0h1m4 0h1m2 0h1m-17 1h2m2 0h1m1 0h1m2 0h5m-149 1h1m4 0h1m130 0h3m1 0h10m-11 1h5m2 0h3m-12 1h2m2 0h3m1 0h1m1 0h1m-11 1h2m1 0h1m1 0h4m-9 1h4m2 0h1m-7 1h2m1 0h5m-10 1h1m1 0h1m1 0h1m1 0h2m-8 1h3m1 0h3m-7 1h1m1 0h1m-4 1h1m1 0h3m-4 1h1m-2 1h1m-3 1h1m-1 1h3m-57 32h3m-1 1h3m1 0h1m-6 1h2m1 0h2m-5 1h2m1 0h1m-3 1h1m1 0h4m-4 1h5m-3 1h3m-2 1h1m1 0h1m-4 1h1m3 0h1m-10 6h1m2 0h1m-6 1h1m9 4h1m-11 1h1m-11 2h5m-4 1h2m3 0h3m-11 1h1m1 0h2m2 0h1m2 0h2m-11 1h1m2 0h9m7 0h1m-20 1h3m1 0h2m1 0h1m1 0h6m1 0h1m2 0h1m-17 1h2m1 0h4m1 0h2m4 0h1m1 0h1m-20 1h2m1 0h1m1 0h10m1 0h3m4 0h1m-23 1h2m2 0h1m1 0h4m1 0h5m7 0h1m-22 1h2m1 0h1m1 0h2m1 0h1m2 0h1m1 0h3m2 0h2m1 0h1m-26 1h1m1 0h1m2 0h1m2 0h1m1 0h1m1 0h1m2 0h2m2 0h1m1 0h3m1 0h1m-20 1h4m2 0h4m1 0h1m3 0h1m-15 1h1m2 0h1m-37 4h1m0 3h4m-5 1h2m0 1h1"/>
</g>
<circle cx="190.4" cy="272" r="4.7" fill="#7DBFE0"/>
<text x="201.6" y="275.5" font-size="10" fill="#222">normal</text>
<circle cx="190.4" cy="288" r="4.7" fill="#E488C4"/>
<text x="201.6" y="291.5" font-size="10" fill="#222">tumor</text>
<circle cx="190.4" cy="303.8" r="4.7" fill="#8A8D93"/>
<text x="201.6" y="307.3" font-size="10" fill="#222">undetermined</text>
<rect x="336.0" y="447.8" width="25.7" height="7.7" fill="#EE9189" stroke="#5a5a5a" stroke-width="0.5"/>
<rect x="336.0" y="446.0" width="25.7" height="1.8" fill="#A47E3A" stroke="#5a5a5a" stroke-width="0.5"/>
<rect x="336.0" y="409.4" width="25.7" height="36.6" fill="#AEBD38" stroke="#5a5a5a" stroke-width="0.5"/>
<rect x="336.0" y="338.1" width="25.7" height="71.3" fill="#74D62A" stroke="#5a5a5a" stroke-width="0.5"/>
<rect x="336.0" y="328.4" width="25.7" height="9.7" fill="#47C97A" stroke="#5a5a5a" stroke-width="0.5"/>
<rect x="336.0" y="314.1" width="25.7" height="14.3" fill="#4ED2BA" stroke="#5a5a5a" stroke-width="0.5"/>
<rect x="336.0" y="313.1" width="25.7" height="1.0" fill="#4BC0D6" stroke="#5a5a5a" stroke-width="0.5"/>
<rect x="336.0" y="307.0" width="25.7" height="6.1" fill="#43B4D8" stroke="#5a5a5a" stroke-width="0.5"/>
<rect x="336.0" y="294.5" width="25.7" height="12.5" fill="#BEA6EC" stroke="#5a5a5a" stroke-width="0.5"/>
<rect x="336.0" y="291.8" width="25.7" height="2.7" fill="#E06FBE" stroke="#5a5a5a" stroke-width="0.5"/>
<rect x="336.0" y="289.1" width="25.7" height="2.7" fill="#E884B8" stroke="#5a5a5a" stroke-width="0.5"/>
<rect x="366.8" y="446.4" width="26.8" height="9.1" fill="#EE9189" stroke="#5a5a5a" stroke-width="0.5"/>
<rect x="366.8" y="367.4" width="26.8" height="79.0" fill="#D89A3A" stroke="#5a5a5a" stroke-width="0.5"/>
<rect x="366.8" y="316.2" width="26.8" height="51.2" fill="#C4A636" stroke="#5a5a5a" stroke-width="0.5"/>
<rect x="366.8" y="311.5" width="26.8" height="4.7" fill="#AEBD38" stroke="#5a5a5a" stroke-width="0.5"/>
<rect x="366.8" y="310.9" width="26.8" height="0.6" fill="#74D62A" stroke="#5a5a5a" stroke-width="0.5"/>
<rect x="366.8" y="308.6" width="26.8" height="2.3" fill="#47C97A" stroke="#5a5a5a" stroke-width="0.5"/>
<rect x="366.8" y="306.4" width="26.8" height="2.2" fill="#4ED2BA" stroke="#5a5a5a" stroke-width="0.5"/>
<rect x="366.8" y="305.6" width="26.8" height="0.8" fill="#4BC0D6" stroke="#5a5a5a" stroke-width="0.5"/>
<rect x="366.8" y="294.3" width="26.8" height="11.3" fill="#43B4D8" stroke="#5a5a5a" stroke-width="0.5"/>
<rect x="366.8" y="293.6" width="26.8" height="0.7" fill="#4a3f4f" stroke="#5a5a5a" stroke-width="0.5"/>
<rect x="366.8" y="290.2" width="26.8" height="3.4" fill="#E28FDB" stroke="#5a5a5a" stroke-width="0.5"/>
<rect x="366.8" y="289.1" width="26.8" height="1.1" fill="#4a3f4f" stroke="#5a5a5a" stroke-width="0.5"/>
<rect x="398.9" y="332.4" width="28.6" height="123.1" fill="#EE9189" stroke="#5a5a5a" stroke-width="0.5"/>
<rect x="398.9" y="329.4" width="28.6" height="3.0" fill="#A47E3A" stroke="#5a5a5a" stroke-width="0.5"/>
<rect x="398.9" y="324.4" width="28.6" height="5.0" fill="#AEBD38" stroke="#5a5a5a" stroke-width="0.5"/>
<rect x="398.9" y="318.5" width="28.6" height="5.9" fill="#74D62A" stroke="#5a5a5a" stroke-width="0.5"/>
<rect x="398.9" y="316.2" width="28.6" height="2.3" fill="#47C97A" stroke="#5a5a5a" stroke-width="0.5"/>
<rect x="398.9" y="308.9" width="28.6" height="7.3" fill="#4ED2BA" stroke="#5a5a5a" stroke-width="0.5"/>
<rect x="398.9" y="293.7" width="28.6" height="15.2" fill="#4BC0D6" stroke="#5a5a5a" stroke-width="0.5"/>
<rect x="398.9" y="291.2" width="28.6" height="2.5" fill="#43B4D8" stroke="#5a5a5a" stroke-width="0.5"/>
<rect x="398.9" y="290.0" width="28.6" height="1.2" fill="#E28FDB" stroke="#5a5a5a" stroke-width="0.5"/>
<rect x="398.9" y="289.3" width="28.6" height="0.7" fill="#E884B8" stroke="#5a5a5a" stroke-width="0.5"/>
<rect x="432.2" y="361.4" width="29.7" height="94.1" fill="#EE9189" stroke="#5a5a5a" stroke-width="0.5"/>
<rect x="432.2" y="349.5" width="29.7" height="11.9" fill="#AEBD38" stroke="#5a5a5a" stroke-width="0.5"/>
<rect x="432.2" y="344.4" width="29.7" height="5.1" fill="#74D62A" stroke="#5a5a5a" stroke-width="0.5"/>
<rect x="432.2" y="313.7" width="29.7" height="30.7" fill="#47C97A" stroke="#5a5a5a" stroke-width="0.5"/>
<rect x="432.2" y="311.1" width="29.7" height="2.6" fill="#4ED2BA" stroke="#5a5a5a" stroke-width="0.5"/>
<rect x="432.2" y="309.5" width="29.7" height="1.6" fill="#4BC0D6" stroke="#5a5a5a" stroke-width="0.5"/>
<rect x="432.2" y="303.1" width="29.7" height="6.4" fill="#43B4D8" stroke="#5a5a5a" stroke-width="0.5"/>
<rect x="432.2" y="291.6" width="29.7" height="11.5" fill="#BEA6EC" stroke="#5a5a5a" stroke-width="0.5"/>
<rect x="432.2" y="289.3" width="29.7" height="2.3" fill="#E884B8" stroke="#5a5a5a" stroke-width="0.5"/>
<rect x="465.9" y="431.3" width="28.7" height="24.2" fill="#EE9189" stroke="#5a5a5a" stroke-width="0.5"/>
<rect x="465.9" y="428.5" width="28.7" height="2.8" fill="#A47E3A" stroke="#5a5a5a" stroke-width="0.5"/>
<rect x="465.9" y="366.5" width="28.7" height="62.0" fill="#AEBD38" stroke="#5a5a5a" stroke-width="0.5"/>
<rect x="465.9" y="343.5" width="28.7" height="23.0" fill="#74D62A" stroke="#5a5a5a" stroke-width="0.5"/>
<rect x="465.9" y="316.2" width="28.7" height="27.3" fill="#47C97A" stroke="#5a5a5a" stroke-width="0.5"/>
<rect x="465.9" y="313.5" width="28.7" height="2.7" fill="#4ED2BA" stroke="#5a5a5a" stroke-width="0.5"/>
<rect x="465.9" y="312.3" width="28.7" height="1.2" fill="#4BC0D6" stroke="#5a5a5a" stroke-width="0.5"/>
<rect x="465.9" y="298.7" width="28.7" height="13.6" fill="#43B4D8" stroke="#5a5a5a" stroke-width="0.5"/>
<rect x="465.9" y="297.8" width="28.7" height="0.9" fill="#E28FDB" stroke="#5a5a5a" stroke-width="0.5"/>
<rect x="465.9" y="291.0" width="28.7" height="6.8" fill="#E06FBE" stroke="#5a5a5a" stroke-width="0.5"/>
<rect x="465.9" y="289.3" width="28.7" height="1.7" fill="#E884B8" stroke="#5a5a5a" stroke-width="0.5"/>
<path d="M326.6 288.8V455.6" stroke="#8a8a8a" stroke-width="0.9" fill="none"/>
<path d="M323.3 455.5H326.6" stroke="#8a8a8a" stroke-width="0.9"/>
<text x="321" y="458.9" font-size="9.5" fill="#222" text-anchor="end">0.0</text>
<path d="M323.3 422.2H326.6" stroke="#8a8a8a" stroke-width="0.9"/>
<text x="321" y="425.6" font-size="9.5" fill="#222" text-anchor="end">0.2</text>
<path d="M323.3 388.8H326.6" stroke="#8a8a8a" stroke-width="0.9"/>
<text x="321" y="392.2" font-size="9.5" fill="#222" text-anchor="end">0.4</text>
<path d="M323.3 355.5H326.6" stroke="#8a8a8a" stroke-width="0.9"/>
<text x="321" y="358.9" font-size="9.5" fill="#222" text-anchor="end">0.6</text>
<path d="M323.3 322.1H326.6" stroke="#8a8a8a" stroke-width="0.9"/>
<text x="321" y="325.5" font-size="9.5" fill="#222" text-anchor="end">0.8</text>
<path d="M323.3 288.8H326.6" stroke="#8a8a8a" stroke-width="0.9"/>
<text x="321" y="292.2" font-size="9.5" fill="#222" text-anchor="end">1.0</text>
<text transform="translate(300.8,360) rotate(-90)" font-size="10.2" fill="#222" text-anchor="middle">Cluster frequency (%)</text>
<text transform="translate(348.1,458.4) rotate(-45)" font-size="10" fill="#222" text-anchor="end" dy="0.72em">MOSR10</text>
<text transform="translate(380.6,458.8) rotate(-45)" font-size="10" fill="#222" text-anchor="end" dy="0.72em">MOSR12</text>
<text transform="translate(413.9,459.4) rotate(-45)" font-size="10" fill="#222" text-anchor="end" dy="0.72em">MOSR3</text>
<text transform="translate(447.9,459.4) rotate(-45)" font-size="10" fill="#222" text-anchor="end" dy="0.72em">MOSR8</text>
<text transform="translate(481.8,459.4) rotate(-45)" font-size="10" fill="#222" text-anchor="end" dy="0.72em">MOSR9</text>
<circle cx="508.8" cy="279.6" r="3.6" fill="#EE9189"/>
<text x="518.4" y="282.8" font-size="9" fill="#222">MESOTHELIOMA/S100A6</text>
<circle cx="508.8" cy="292.4" r="3.6" fill="#4DC3D6"/>
<text x="518.4" y="295.6" font-size="9" fill="#222">MESOTHELIOMA/UBE2S</text>
<circle cx="508.8" cy="306.4" r="3.6" fill="#D9953A"/>
<text x="518.4" y="309.6" font-size="9" fill="#222">MESOTHELIOMA/IFI6</text>
<circle cx="508.8" cy="319.9" r="3.6" fill="#C4A33A"/>
<text x="518.4" y="323.1" font-size="9" fill="#222">MESOTHELIOMA/PPDPF</text>
<circle cx="508.8" cy="333.4" r="3.6" fill="#AFBB3A"/>
<text x="518.4" y="336.6" font-size="9" fill="#222">MYELOID Cells</text>
<circle cx="508.8" cy="346.7" r="3.6" fill="#73D62A"/>
<text x="518.4" y="349.9" font-size="9" fill="#222">MESOTHELIOMA/SAA1</text>
<circle cx="508.8" cy="360.5" r="3.6" fill="#48C97A"/>
<text x="518.4" y="363.7" font-size="9" fill="#222">NK/T Cells</text>
<circle cx="508.8" cy="374.0" r="3.6" fill="#4ED3BA"/>
<text x="518.4" y="377.2" font-size="9" fill="#222">MESOTHELIAL/HP</text>
<circle cx="508.8" cy="387.5" r="3.6" fill="#45B5DA"/>
<text x="518.4" y="390.7" font-size="9" fill="#222">MESOTHELIOMA/S</text>
<circle cx="508.8" cy="401.0" r="3.6" fill="#3EA8D4"/>
<text x="518.4" y="404.2" font-size="9" fill="#222">CAFs</text>
<circle cx="508.8" cy="414.5" r="3.6" fill="#BCA6EC"/>
<text x="518.4" y="417.7" font-size="9" fill="#222">B Cells</text>
<circle cx="508.8" cy="427.8" r="3.6" fill="#DE8CDA"/>
<text x="518.4" y="431.0" font-size="9" fill="#222">MESOTHELIOMA/G2M</text>
<circle cx="508.8" cy="441.2" r="3.6" fill="#E074BF"/>
<text x="518.4" y="444.4" font-size="9" fill="#222">ENDOTHELIAL Cells</text>
<circle cx="508.8" cy="454.7" r="3.6" fill="#E982B5"/>
<text x="518.4" y="457.9" font-size="9" fill="#222">PLASMA Cells</text>
<path d="M56.5 513V958.4M67.1 513V958.4M77.7 513V958.4M88.3 513V958.4M98.9 513V958.4M109.5 513V958.4M120.1 513V958.4M130.7 513V958.4M141.3 513V958.4M151.9 513V958.4M162.5 513V958.4M173.1 513V958.4M183.7 513V958.4M194.3 513V958.4M204.9 513V958.4M215.5 513V958.4M226.1 513V958.4M236.7 513V958.4M247.3 513V958.4M257.9 513V958.4M268.5 513V958.4M279.1 513V958.4M289.7 513V958.4M300.3 513V958.4M310.9 513V958.4M321.5 513V958.4M50 533.3H327M50 567.1H327M50 600.9H327M50 634.6H327M50 668.4H327M50 702.2H327M50 736.0H327M50 769.8H327M50 803.5H327M50 837.3H327M50 871.1H327M50 904.9H327M50 938.7H327" stroke="#ECECF0" stroke-width="1.4" fill="none"/>
<rect x="50" y="513" width="277" height="445.4" fill="none" stroke="#6e6e6e" stroke-width="1.4"/>
<path d="M56.5 958.4v2M67.1 958.4v2M77.7 958.4v2M88.3 958.4v2M98.9 958.4v2M109.5 958.4v2M120.1 958.4v2M130.7 958.4v2M141.3 958.4v2M151.9 958.4v2M162.5 958.4v2M173.1 958.4v2M183.7 958.4v2M194.3 958.4v2M204.9 958.4v2M215.5 958.4v2M226.1 958.4v2M236.7 958.4v2M247.3 958.4v2M257.9 958.4v2M268.5 958.4v2M279.1 958.4v2M289.7 958.4v2M300.3 958.4v2M310.9 958.4v2M321.5 958.4v2M50 533.3h-2M50 567.1h-2M50 600.9h-2M50 634.6h-2M50 668.4h-2M50 702.2h-2M50 736.0h-2M50 769.8h-2M50 803.5h-2M50 837.3h-2M50 871.1h-2M50 904.9h-2M50 938.7h-2" stroke="#333" stroke-width="1" fill="none"/>
<text x="38.6" y="531.7" font-size="7.8" fill="#222" text-anchor="middle">13</text>
<text x="38.6" y="541.9" font-size="7.8" fill="#222" text-anchor="middle">(159)</text>
<text x="38.6" y="565.5" font-size="7.8" fill="#222" text-anchor="middle">11</text>
<text x="38.6" y="575.7" font-size="7.8" fill="#222" text-anchor="middle">(152)</text>
<text x="38.6" y="599.3" font-size="7.8" fill="#222" text-anchor="middle">10</text>
<text x="38.6" y="609.5" font-size="7.8" fill="#222" text-anchor="middle">(65)</text>
<text x="38.6" y="633.0" font-size="7.8" fill="#222" text-anchor="middle">9</text>
<text x="38.6" y="643.2" font-size="7.8" fill="#222" text-anchor="middle">(224)</text>
<text x="38.6" y="666.8" font-size="7.8" fill="#222" text-anchor="middle">8</text>
<text x="38.6" y="677.0" font-size="7.8" fill="#222" text-anchor="middle">(91)</text>
<text x="38.6" y="700.6" font-size="7.8" fill="#222" text-anchor="middle">7</text>
<text x="38.6" y="710.8" font-size="7.8" fill="#222" text-anchor="middle">(343)</text>
<text x="38.6" y="734.4" font-size="7.8" fill="#222" text-anchor="middle">6</text>
<text x="38.6" y="744.6" font-size="7.8" fill="#222" text-anchor="middle">(149)</text>
<text x="38.6" y="768.2" font-size="7.8" fill="#222" text-anchor="middle">5</text>
<text x="38.6" y="778.4" font-size="7.8" fill="#222" text-anchor="middle">(80)</text>
<text x="38.6" y="801.9" font-size="7.8" fill="#222" text-anchor="middle">4</text>
<text x="38.6" y="812.1" font-size="7.8" fill="#222" text-anchor="middle">(148)</text>
<text x="38.6" y="835.7" font-size="7.8" fill="#222" text-anchor="middle">3</text>
<text x="38.6" y="845.9" font-size="7.8" fill="#222" text-anchor="middle">(281)</text>
<text x="38.6" y="869.5" font-size="7.8" fill="#222" text-anchor="middle">2</text>
<text x="38.6" y="879.7" font-size="7.8" fill="#222" text-anchor="middle">(126)</text>
<text x="38.6" y="903.3" font-size="7.8" fill="#222" text-anchor="middle">1</text>
<text x="38.6" y="913.5" font-size="7.8" fill="#222" text-anchor="middle">(25)</text>
<text x="38.6" y="937.1" font-size="7.8" fill="#222" text-anchor="middle">0</text>
<text x="38.6" y="947.3" font-size="7.8" fill="#222" text-anchor="middle">(197)</text>
<text transform="translate(21.8,710) rotate(-90)" font-size="11.5" fill="#222" text-anchor="middle">Cluster</text>
<circle cx="141.3" cy="533.3" r="2.80" fill="#D5398F"/>
<circle cx="162.5" cy="533.3" r="3.40" fill="#E0334A"/>
<circle cx="173.1" cy="533.3" r="3.40" fill="#E0334A"/>
<circle cx="204.9" cy="533.3" r="3.40" fill="#E0334A"/>
<circle cx="215.5" cy="533.3" r="3.40" fill="#E0334A"/>
<circle cx="247.3" cy="533.3" r="3.40" fill="#E0334A"/>
<circle cx="257.9" cy="533.3" r="3.40" fill="#E0334A"/>
<circle cx="321.5" cy="533.3" r="3.40" fill="#E0334A"/>
<circle cx="56.5" cy="567.1" r="3.15" fill="#D5398F"/>
<circle cx="88.3" cy="567.1" r="3.25" fill="#D5398F"/>
<circle cx="109.5" cy="567.1" r="3.95" fill="#E23B2B"/>
<circle cx="120.1" cy="567.1" r="4.80" fill="#E23B2B"/>
<circle cx="130.7" cy="567.1" r="4.80" fill="#E23B2B"/>
<circle cx="162.5" cy="600.9" r="3.50" fill="#4433B8"/>
<circle cx="173.1" cy="600.9" r="3.50" fill="#4433B8"/>
<circle cx="183.7" cy="600.9" r="3.50" fill="#CE3DAE"/>
<circle cx="194.3" cy="600.9" r="4.60" fill="#E23B2B"/>
<circle cx="215.5" cy="600.9" r="4.00" fill="#E23B2B"/>
<circle cx="247.3" cy="600.9" r="4.00" fill="#E23B2B"/>
<circle cx="67.1" cy="634.6" r="3.50" fill="#E23B2B"/>
<circle cx="141.3" cy="634.6" r="3.50" fill="#E23B2B"/>
<circle cx="151.9" cy="634.6" r="3.00" fill="#C041CC"/>
<circle cx="204.9" cy="634.6" r="3.50" fill="#E23B2B"/>
<circle cx="215.5" cy="634.6" r="3.50" fill="#E23B2B"/>
<circle cx="257.9" cy="634.6" r="3.00" fill="#E23B2B"/>
<circle cx="300.3" cy="634.6" r="3.50" fill="#E23B2B"/>
<circle cx="321.5" cy="634.6" r="4.75" fill="#E23B2B"/>
<circle cx="77.7" cy="668.4" r="3.25" fill="#DF3068"/>
<circle cx="88.3" cy="668.4" r="3.75" fill="#E23B2B"/>
<circle cx="120.1" cy="668.4" r="4.75" fill="#E23B2B"/>
<circle cx="130.7" cy="668.4" r="4.00" fill="#E23B2B"/>
<circle cx="88.3" cy="702.2" r="3.50" fill="#E23B2B"/>
<circle cx="98.9" cy="702.2" r="3.50" fill="#E23B2B"/>
<circle cx="109.5" cy="702.2" r="3.50" fill="#E23B2B"/>
<circle cx="120.1" cy="702.2" r="3.75" fill="#E23B2B"/>
<circle cx="130.7" cy="702.2" r="3.75" fill="#E23B2B"/>
<circle cx="268.5" cy="702.2" r="3.25" fill="#E23B2B"/>
<circle cx="279.1" cy="702.2" r="2.30" fill="#E23B2B"/>
<circle cx="289.7" cy="702.2" r="3.00" fill="#CE3DAE"/>
<circle cx="141.3" cy="736.0" r="3.60" fill="#E23B2B"/>
<circle cx="151.9" cy="736.0" r="3.60" fill="#E23B2B"/>
<circle cx="183.7" cy="736.0" r="3.60" fill="#E23B2B"/>
<circle cx="204.9" cy="736.0" r="3.60" fill="#E23B2B"/>
<circle cx="215.5" cy="736.0" r="4.50" fill="#E23B2B"/>
<circle cx="247.3" cy="736.0" r="3.60" fill="#E23B2B"/>
<circle cx="321.5" cy="736.0" r="3.60" fill="#E23B2B"/>
<circle cx="162.5" cy="769.8" r="3.65" fill="#E0334A"/>
<circle cx="173.1" cy="769.8" r="3.65" fill="#E0334A"/>
<circle cx="183.7" cy="769.8" r="3.75" fill="#E23B2B"/>
<circle cx="194.3" cy="769.8" r="4.90" fill="#E23B2B"/>
<circle cx="204.9" cy="769.8" r="3.75" fill="#E23B2B"/>
<circle cx="215.5" cy="769.8" r="3.25" fill="#A93CD2"/>
<circle cx="236.7" cy="769.8" r="3.40" fill="#E23B2B"/>
<circle cx="247.3" cy="769.8" r="3.75" fill="#E23B2B"/>
<circle cx="141.3" cy="803.5" r="3.75" fill="#E23B2B"/>
<circle cx="151.9" cy="803.5" r="4.00" fill="#E23B2B"/>
<circle cx="183.7" cy="803.5" r="3.25" fill="#E0334A"/>
<circle cx="204.9" cy="803.5" r="3.75" fill="#E23B2B"/>
<circle cx="215.5" cy="803.5" r="4.50" fill="#E23B2B"/>
<circle cx="247.3" cy="803.5" r="3.50" fill="#E0334A"/>
<circle cx="257.9" cy="803.5" r="3.15" fill="#E0334A"/>
<circle cx="321.5" cy="803.5" r="3.60" fill="#E23B2B"/>
<circle cx="151.9" cy="837.3" r="3.00" fill="#C041CC"/>
<circle cx="162.5" cy="837.3" r="3.15" fill="#E03462"/>
<circle cx="173.1" cy="837.3" r="3.50" fill="#E23B2B"/>
<circle cx="183.7" cy="837.3" r="3.75" fill="#E23B2B"/>
<circle cx="194.3" cy="837.3" r="3.75" fill="#E23B2B"/>
<circle cx="204.9" cy="837.3" r="3.75" fill="#E23B2B"/>
<circle cx="215.5" cy="837.3" r="3.75" fill="#E23B2B"/>
<circle cx="247.3" cy="837.3" r="3.50" fill="#E23B2B"/>
<circle cx="257.9" cy="837.3" r="3.15" fill="#E23B2B"/>
<circle cx="226.1" cy="871.1" r="3.60" fill="#E23B2B"/>
<circle cx="236.7" cy="871.1" r="3.50" fill="#E23B2B"/>
<circle cx="247.3" cy="871.1" r="3.90" fill="#E23B2B"/>
<circle cx="236.7" cy="904.9" r="4.50" fill="#E23B2B"/>
<circle cx="247.3" cy="904.9" r="4.75" fill="#E23B2B"/>
<circle cx="257.9" cy="938.7" r="3.15" fill="#D5398F"/>
<circle cx="268.5" cy="938.7" r="3.25" fill="#DC3570"/>
<circle cx="279.1" cy="938.7" r="2.50" fill="#E23B2B"/>
<circle cx="289.7" cy="938.7" r="3.50" fill="#E23B2B"/>
<circle cx="300.3" cy="938.7" r="3.50" fill="#E23B2B"/>
<circle cx="310.9" cy="938.7" r="3.25" fill="#E23B2B"/>
<circle cx="321.5" cy="938.7" r="3.60" fill="#E23B2B"/>
<text transform="translate(55.3,961.5) rotate(-45)" font-size="7" letter-spacing="-0.2" fill="#1a1a1a" stroke="#1a1a1a" stroke-width="0.18" text-anchor="end" dy="0.72em">Hallmark spermatogenesis</text>
<text transform="translate(65.9,961.5) rotate(-45)" font-size="7" letter-spacing="-0.2" fill="#1a1a1a" stroke="#1a1a1a" stroke-width="0.18" text-anchor="end" dy="0.72em">Hallmark myogenesis</text>
<text transform="translate(77.2,961.5) rotate(-45)" font-size="7" letter-spacing="-0.2" fill="#1a1a1a" stroke="#1a1a1a" stroke-width="0.18" text-anchor="end" dy="0.72em">Hallmark DNA repair</text>
<text transform="translate(89.0,961.5) rotate(-45)" font-size="7" letter-spacing="-0.2" fill="#1a1a1a" stroke="#1a1a1a" stroke-width="0.18" text-anchor="end" dy="0.72em">Hallmark MYC targets V1</text>
<text transform="translate(100.5,962.5) rotate(-45)" font-size="7" letter-spacing="-0.2" fill="#1a1a1a" stroke="#1a1a1a" stroke-width="0.18" text-anchor="end" dy="0.72em">Hallmark MTORC1 signaling</text>
<text transform="translate(111.8,962.5) rotate(-45)" font-size="7" letter-spacing="-0.2" fill="#1a1a1a" stroke="#1a1a1a" stroke-width="0.18" text-anchor="end" dy="0.72em">Hallmark mitotic spindle</text>
<text transform="translate(122.5,962.5) rotate(-45)" font-size="7" letter-spacing="-0.2" fill="#1a1a1a" stroke="#1a1a1a" stroke-width="0.18" text-anchor="end" dy="0.72em">Hallmark E2F targets</text>
<text transform="translate(133.2,962.5) rotate(-45)" font-size="7" letter-spacing="-0.2" fill="#1a1a1a" stroke="#1a1a1a" stroke-width="0.18" text-anchor="end" dy="0.72em">Hallmark G2M checkpoint</text>
<text transform="translate(143.9,962.5) rotate(-45)" font-size="7" letter-spacing="-0.2" fill="#1a1a1a" stroke="#1a1a1a" stroke-width="0.18" text-anchor="end" dy="0.72em">Hallmark coagulation</text>
<text transform="translate(154.5,962.5) rotate(-45)" font-size="7" letter-spacing="-0.2" fill="#1a1a1a" stroke="#1a1a1a" stroke-width="0.18" text-anchor="end" dy="0.72em">Hallmark hypoxia</text>
<text transform="translate(165.2,962.5) rotate(-45)" font-size="7" letter-spacing="-0.2" fill="#1a1a1a" stroke="#1a1a1a" stroke-width="0.18" text-anchor="end" dy="0.72em">Hallmark IL2 STAT5 signaling</text>
<text transform="translate(175.9,962.5) rotate(-45)" font-size="7" letter-spacing="-0.2" fill="#1a1a1a" stroke="#1a1a1a" stroke-width="0.18" text-anchor="end" dy="0.72em">Hallmark KRAS signaling</text>
<text transform="translate(186.6,962.5) rotate(-45)" font-size="7" letter-spacing="-0.2" fill="#1a1a1a" stroke="#1a1a1a" stroke-width="0.18" text-anchor="end" dy="0.72em">Hallmark inflammatory response</text>
<text transform="translate(197.3,962.5) rotate(-45)" font-size="7" letter-spacing="-0.2" fill="#1a1a1a" stroke="#1a1a1a" stroke-width="0.18" text-anchor="end" dy="0.72em">Hallmark allograft rejection</text>
<text transform="translate(208.0,962.5) rotate(-45)" font-size="7" letter-spacing="-0.2" fill="#1a1a1a" stroke="#1a1a1a" stroke-width="0.18" text-anchor="end" dy="0.72em">Hallmark complement</text>
<text transform="translate(219.1,962.5) rotate(-45)" font-size="7" letter-spacing="-0.2" fill="#1a1a1a" stroke="#1a1a1a" stroke-width="0.18" text-anchor="end" dy="0.72em">Hallmark TNFA signaling via NFKB</text>
<text transform="translate(229.4,962.5) rotate(-45)" font-size="7" letter-spacing="-0.2" fill="#1a1a1a" stroke="#1a1a1a" stroke-width="0.18" text-anchor="end" dy="0.72em">Hallmark glycolysis</text>
<text transform="translate(239.9,962.5) rotate(-45)" font-size="7" letter-spacing="-0.2" fill="#1a1a1a" stroke="#1a1a1a" stroke-width="0.18" text-anchor="end" dy="0.72em">Hallmark IFNa response</text>
<text transform="translate(250.4,962.5) rotate(-45)" font-size="7" letter-spacing="-0.2" fill="#1a1a1a" stroke="#1a1a1a" stroke-width="0.18" text-anchor="end" dy="0.72em">Hallmark IFNg response</text>
<text transform="translate(260.9,962.5) rotate(-45)" font-size="7" letter-spacing="-0.2" fill="#1a1a1a" stroke="#1a1a1a" stroke-width="0.18" text-anchor="end" dy="0.72em">Hallmark apoptosis</text>
<text transform="translate(271.5,962.5) rotate(-45)" font-size="7" letter-spacing="-0.2" fill="#1a1a1a" stroke="#1a1a1a" stroke-width="0.18" text-anchor="end" dy="0.72em">Hallmark estrogen response late</text>
<text transform="translate(282.1,962.5) rotate(-45)" font-size="7" letter-spacing="-0.2" fill="#1a1a1a" stroke="#1a1a1a" stroke-width="0.18" text-anchor="end" dy="0.72em">Hallmark cholesterol homeostasis</text>
<text transform="translate(292.9,962.5) rotate(-45)" font-size="7" letter-spacing="-0.2" fill="#1a1a1a" stroke="#1a1a1a" stroke-width="0.18" text-anchor="end" dy="0.72em">Hallmark estrogen response early</text>
<text transform="translate(302.9,962.5) rotate(-45)" font-size="7" letter-spacing="-0.2" fill="#1a1a1a" stroke="#1a1a1a" stroke-width="0.18" text-anchor="end" dy="0.72em">Hallmark apical junction</text>
<text transform="translate(312.5,964.5) rotate(-45)" font-size="7" letter-spacing="-0.2" fill="#1a1a1a" stroke="#1a1a1a" stroke-width="0.18" text-anchor="end" dy="0.72em">Hallmark UV response DN</text>
<text transform="translate(322.4,966.9) rotate(-45)" font-size="7" letter-spacing="-0.2" fill="#1a1a1a" stroke="#1a1a1a" stroke-width="0.18" text-anchor="end" dy="0.72em">Hallmark epithelial mesenchimal</text>
<text transform="translate(305.5,998.5) rotate(-45)" font-size="7" letter-spacing="-0.2" fill="#1a1a1a" stroke="#1a1a1a" stroke-width="0.18" text-anchor="end" dy="0.72em">transition</text>
<text x="332.6" y="668.8" font-size="11.5" fill="#222">GeneRatio</text>
<circle cx="340" cy="682.5" r="4.75" fill="#111"/>
<text x="351" y="685.7" font-size="9.4" fill="#222">0.1</text>
<circle cx="340" cy="695.1" r="5.4" fill="#111"/>
<text x="351" y="698.3" font-size="9.4" fill="#222">0.2</text>
<circle cx="340" cy="709" r="6.55" fill="#111"/>
<text x="351" y="712.2" font-size="9.4" fill="#222">0.3</text>
<text x="332.7" y="735" font-size="11.3" fill="#222">p.adjust</text>
<defs><linearGradient id="pg" x1="0" y1="0" x2="0" y2="1"><stop offset="0" stop-color="#4A2FB6"/><stop offset="0.15" stop-color="#7E2CC6"/><stop offset="0.35" stop-color="#B232BF"/><stop offset="0.55" stop-color="#D0339E"/><stop offset="0.78" stop-color="#E03065"/><stop offset="1" stop-color="#E8382A"/></linearGradient></defs>
<rect x="332.9" y="743.2" width="12.1" height="62.4" fill="url(#pg)"/>
<text x="349.3" y="757.9" font-size="9.6" fill="#222">0.04</text>
<text x="349.3" y="770.7" font-size="9.6" fill="#222">0.03</text>
<text x="349.3" y="782.8" font-size="9.6" fill="#222">0.02</text>
<text x="349.3" y="795.7" font-size="9.6" fill="#222">0.01</text>
<path d="M332.9 755.5h2.2M342.8 755.5h2.2M332.9 768.3h2.2M342.8 768.3h2.2M332.9 780.4h2.2M342.8 780.4h2.2M332.9 793.3h2.2M342.8 793.3h2.2" stroke="#fff" stroke-width="0.8" fill="none"/>
</svg></body></html>
